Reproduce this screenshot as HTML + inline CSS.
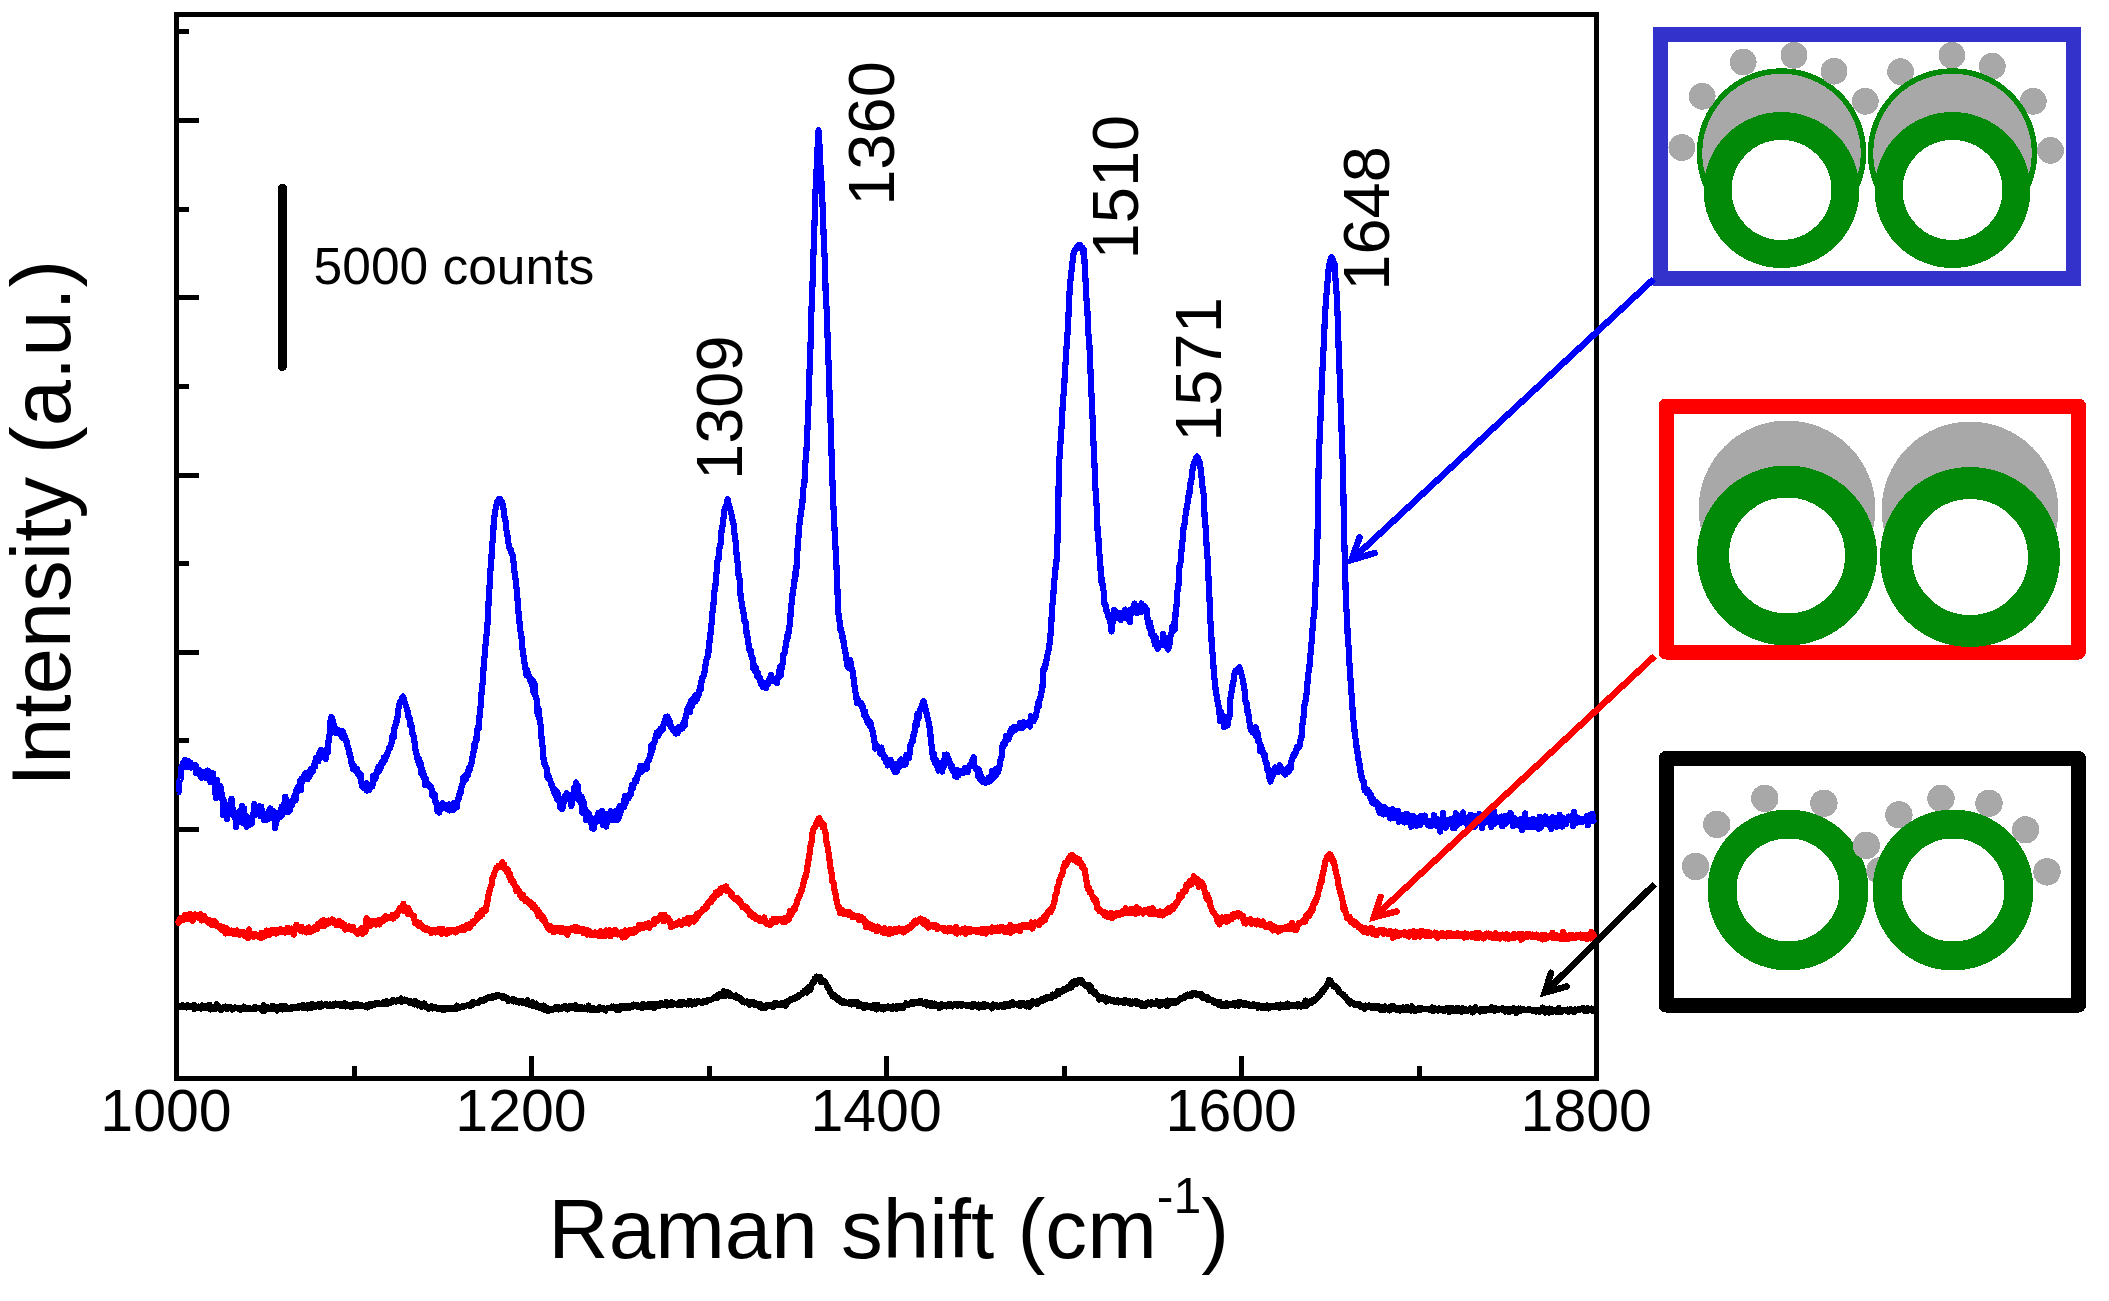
<!DOCTYPE html>
<html><head><meta charset="utf-8"><title>Raman spectra</title>
<style>
html,body{margin:0;padding:0;background:#fff;}
body{width:2109px;height:1301px;overflow:hidden;}
svg{display:block;}
text{font-family:"Liberation Sans", Arial, sans-serif;fill:#000;}
</style></head>
<body>
<svg width="2109" height="1301" viewBox="0 0 2109 1301" shape-rendering="crispEdges">
<rect width="2109" height="1301" fill="#fff"/>
<rect x="176.5" y="14.5" width="1420" height="1064" fill="none" stroke="#000" stroke-width="5"/>
<path d="M179 120.6H199M179 297.7H199M179 475.1H199M179 652.3H199M179 829.5H199M179 1006.7H199M179 31.9H189M179 209.1H189M179 386.6H189M179 563.7H189M179 740.9H189M179 918.1H189M531.5 1076V1056M886.6 1076V1056M1241.7 1076V1056M354.0 1076V1066M709.1 1076V1066M1064.1 1076V1066M1419.2 1076V1066" stroke="#000" stroke-width="5" fill="none"/>
<text x="166.0" y="1131" font-size="59" text-anchor="middle">1000</text>
<text x="521.0" y="1131" font-size="59" text-anchor="middle">1200</text>
<text x="876.1" y="1131" font-size="59" text-anchor="middle">1400</text>
<text x="1231.2" y="1131" font-size="59" text-anchor="middle">1600</text>
<text x="1586.2" y="1131" font-size="59" text-anchor="middle">1800</text>
<text transform="translate(70.1 786.8) rotate(-90)" font-size="83.2">Intensity (a.u.)</text>
<text x="548.3" y="1258" font-size="83.6">Raman shift (cm<tspan font-size="50" dy="-45">-1</tspan><tspan dy="45">)</tspan></text>
<path d="M282.4 188V366.5" stroke="#000" stroke-width="9" stroke-linecap="round"/>
<text x="313.6" y="284.2" font-size="51.5">5000 counts</text>
<text transform="translate(741.5 480.0) rotate(-90)" font-size="65">1309</text>
<text transform="translate(893.8 205.8) rotate(-90)" font-size="65">1360</text>
<text transform="translate(1137.5 259.4) rotate(-90)" font-size="65">1510</text>
<text transform="translate(1221.2 441.8) rotate(-90)" font-size="65">1571</text>
<text transform="translate(1389.2 290.7) rotate(-90)" font-size="65">1648</text>
<path d="M178.8 1006.7L179.7 1007.4L180.6 1006.3L181.5 1006.9L182.4 1005.0L183.3 1007.2L184.2 1005.7L185.1 1007.0L186.0 1006.3L186.9 1007.5L187.8 1005.2L188.7 1007.0L189.6 1006.3L190.5 1007.2L191.4 1005.9L192.3 1006.5L193.2 1005.5L194.1 1009.1L195.0 1005.4L195.9 1007.4L196.8 1007.0L197.7 1008.2L198.6 1006.4L199.5 1008.3L200.4 1007.1L201.3 1008.7L202.2 1005.4L203.1 1008.1L204.0 1006.9L204.9 1008.1L205.8 1006.1L206.7 1007.3L207.6 1006.3L208.5 1007.8L209.4 1004.6L210.3 1009.6L211.2 1007.3L212.1 1009.0L213.0 1007.4L213.9 1007.8L214.8 1007.1L215.7 1008.9L216.6 1004.1L217.5 1008.1L218.4 1007.6L219.3 1008.7L220.2 1007.2L221.1 1010.1L222.0 1008.1L222.9 1008.4L223.8 1006.9L224.7 1008.3L225.6 1006.5L226.5 1008.9L227.4 1006.9L228.3 1008.6L229.2 1006.8L230.1 1008.2L231.0 1007.3L231.9 1009.6L232.9 1007.8L233.8 1008.6L234.7 1007.4L235.6 1007.9L236.5 1007.9L237.4 1008.3L238.3 1008.8L239.2 1008.8L240.1 1008.1L241.0 1009.8L241.9 1008.5L242.8 1008.3L243.7 1006.6L244.6 1009.0L245.5 1007.9L246.4 1009.4L247.3 1008.1L248.2 1009.3L249.1 1007.6L250.0 1008.7L250.9 1008.5L251.8 1009.0L252.7 1008.7L253.6 1009.1L254.5 1007.0L255.4 1009.2L256.3 1007.3L257.2 1008.3L258.1 1008.2L259.0 1008.2L259.9 1008.2L260.8 1009.5L261.7 1007.7L262.6 1010.8L263.5 1005.1L264.4 1011.0L265.3 1007.5L266.2 1007.3L267.1 1007.1L268.0 1008.9L268.9 1008.3L269.9 1008.6L270.8 1007.9L271.7 1008.9L272.6 1005.7L273.5 1008.7L274.4 1006.5L275.3 1008.8L276.2 1006.8L277.1 1010.6L278.0 1007.0L278.9 1009.0L279.8 1006.3L280.7 1008.6L281.6 1005.9L282.5 1009.5L283.4 1005.8L284.3 1007.8L285.2 1005.7L286.1 1008.6L287.0 1008.2L287.9 1009.0L288.8 1007.7L289.7 1008.2L290.6 1007.4L291.5 1009.3L292.4 1006.7L293.3 1008.1L294.2 1007.0L295.1 1007.8L296.0 1007.2L296.9 1008.4L297.8 1006.3L298.7 1007.6L299.6 1006.4L300.5 1006.5L301.4 1005.6L302.3 1007.7L303.2 1005.1L304.1 1008.2L305.0 1005.8L305.9 1007.7L306.8 1005.6L307.8 1008.6L308.7 1005.1L309.6 1007.0L310.5 1006.5L311.4 1007.9L312.3 1003.9L313.2 1005.5L314.1 1005.0L315.0 1007.2L315.9 1005.1L316.8 1005.5L317.7 1005.2L318.6 1005.7L319.5 1003.6L320.4 1007.3L321.3 1003.5L322.2 1006.2L323.1 1004.9L324.0 1004.5L324.9 1004.6L325.8 1003.7L326.7 1004.1L327.6 1006.2L328.5 1005.1L329.4 1005.6L330.3 1004.4L331.2 1006.0L332.1 1004.8L333.0 1006.3L333.9 1003.9L334.8 1004.7L335.7 1003.6L336.7 1005.1L337.6 1003.7L338.5 1005.4L339.4 1004.2L340.3 1005.9L341.2 1004.0L342.1 1005.9L343.0 1005.4L343.9 1005.9L344.8 1003.2L345.7 1006.5L346.6 1004.2L347.5 1005.8L348.4 1005.4L349.3 1006.4L350.2 1005.4L351.1 1007.0L352.0 1004.8L352.9 1006.9L353.8 1003.8L354.7 1005.5L355.7 1004.1L356.6 1005.8L357.5 1004.1L358.4 1006.4L359.3 1006.3L360.2 1005.7L361.1 1005.0L362.0 1006.4L362.9 1005.9L363.8 1006.3L364.7 1006.7L365.6 1006.6L366.5 1005.3L367.4 1007.5L368.3 1005.5L369.2 1006.1L370.1 1004.1L371.0 1006.1L371.9 1005.0L372.8 1005.4L373.7 1003.9L374.6 1005.2L375.5 1003.2L376.4 1004.3L377.3 1002.8L378.2 1003.1L379.1 1003.9L380.0 1003.7L380.9 1004.0L381.8 1004.4L382.7 1002.5L383.6 1003.8L384.5 1001.7L385.4 1003.1L386.3 1001.1L387.2 1004.2L388.1 1001.7L389.0 1002.5L389.9 1001.8L390.8 1002.5L391.7 1000.6L392.6 1002.0L393.6 1000.3L394.5 1000.7L395.4 1000.6L396.3 1001.6L397.2 1000.5L398.1 1001.4L399.0 1000.0L399.9 1001.4L400.8 998.4L401.7 1002.1L402.6 999.7L403.5 1000.8L404.4 999.5L405.3 1001.4L406.2 1000.1L407.1 1001.3L408.0 1001.0L408.9 1002.7L409.8 1000.8L410.7 1003.1L411.6 1002.6L412.6 1002.7L413.5 1002.2L414.4 1004.6L415.3 1001.0L416.2 1004.1L417.1 1003.2L418.0 1005.5L418.9 1003.3L419.8 1005.4L420.7 1004.3L421.6 1006.8L422.5 1004.9L423.4 1006.3L424.3 1003.4L425.2 1006.6L426.1 1005.4L427.0 1007.6L427.9 1006.9L428.8 1008.8L429.7 1007.0L430.6 1007.1L431.5 1005.9L432.4 1008.5L433.3 1007.0L434.2 1007.4L435.1 1006.7L436.0 1007.4L436.9 1007.9L437.8 1008.9L438.7 1008.2L439.6 1008.3L440.5 1007.7L441.4 1009.5L442.3 1008.0L443.2 1010.3L444.1 1007.8L445.0 1009.7L445.9 1007.6L446.8 1009.0L447.7 1007.9L448.6 1008.9L449.5 1008.3L450.5 1008.8L451.4 1007.7L452.3 1009.1L453.2 1007.8L454.1 1009.1L455.0 1007.7L455.9 1009.0L456.8 1005.5L457.7 1008.1L458.6 1007.2L459.5 1008.0L460.4 1007.3L461.3 1006.9L462.2 1006.1L463.1 1007.2L464.0 1006.7L464.9 1006.0L465.8 1005.7L466.7 1005.4L467.6 1005.2L468.5 1005.5L469.5 1004.7L470.4 1006.1L471.3 1003.4L472.2 1004.9L473.1 1001.8L474.0 1003.6L474.9 1003.3L475.8 1003.1L476.7 1003.0L477.6 1003.3L478.5 1001.9L479.4 1002.1L480.3 1000.4L481.2 1001.1L482.1 999.7L483.0 1001.2L483.9 999.3L484.8 1000.1L485.7 998.5L486.6 998.9L487.5 998.3L488.4 998.4L489.3 996.7L490.2 997.8L491.1 998.3L492.0 997.7L492.9 995.7L493.8 997.4L494.7 996.2L495.6 997.1L496.5 995.1L497.4 995.6L498.3 994.7L499.2 996.0L500.1 995.9L501.0 996.5L501.9 997.6L502.8 997.8L503.7 996.1L504.6 998.3L505.5 997.0L506.4 998.4L507.4 997.8L508.3 1001.3L509.2 999.2L510.1 1000.3L511.0 1000.0L511.9 1000.2L512.8 998.8L513.7 1001.5L514.6 1000.1L515.5 1000.8L516.4 1000.4L517.3 1002.1L518.2 1001.1L519.1 1002.7L520.0 1000.9L520.9 1001.5L521.8 1000.7L522.7 1002.9L523.6 1001.5L524.5 1003.1L525.4 1003.0L526.4 1004.1L527.3 1000.1L528.2 1004.4L529.1 1002.4L530.0 1005.4L530.9 1002.6L531.8 1003.7L532.7 1002.0L533.6 1006.2L534.5 1004.6L535.4 1004.5L536.3 1003.6L537.2 1007.2L538.0 1006.1L538.9 1007.7L539.8 1006.0L540.7 1007.6L541.6 1006.8L542.4 1009.0L543.3 1005.5L544.2 1009.9L545.1 1008.1L546.0 1009.6L546.8 1007.6L547.7 1011.3L548.6 1009.9L549.5 1010.3L550.4 1009.5L551.3 1009.2L552.2 1008.8L553.1 1009.6L554.0 1008.4L554.9 1008.4L555.8 1006.9L556.6 1008.8L557.5 1008.5L558.4 1009.4L559.3 1007.3L560.2 1009.1L561.1 1008.9L562.0 1008.8L562.9 1006.9L563.8 1008.2L564.7 1005.7L565.6 1008.0L566.5 1006.8L567.4 1009.6L568.3 1006.9L569.3 1008.0L570.2 1005.7L571.1 1008.5L572.0 1005.7L572.9 1007.8L573.8 1007.2L574.7 1008.5L575.6 1005.3L576.5 1008.8L577.4 1007.8L578.3 1007.9L579.3 1007.4L580.2 1009.1L581.1 1007.0L582.0 1008.2L582.9 1007.9L583.8 1009.0L584.7 1007.4L585.6 1007.7L586.5 1007.5L587.4 1009.5L588.4 1005.5L589.3 1008.4L590.2 1007.6L591.1 1010.4L592.0 1008.4L592.9 1010.3L593.8 1008.4L594.7 1008.8L595.6 1009.8L596.5 1009.3L597.4 1008.5L598.4 1010.0L599.3 1007.2L600.2 1008.5L601.1 1009.3L602.0 1009.5L602.9 1007.9L603.8 1008.8L604.7 1009.5L605.6 1010.6L606.5 1008.4L607.4 1008.3L608.3 1008.1L609.2 1007.9L610.1 1008.2L611.0 1008.1L611.9 1006.6L612.9 1008.4L613.8 1006.5L614.7 1008.1L615.6 1007.6L616.5 1009.8L617.4 1007.1L618.3 1010.0L619.2 1006.6L620.1 1009.8L621.0 1005.8L621.9 1007.4L622.8 1006.9L623.7 1006.7L624.6 1005.9L625.5 1008.3L626.4 1006.2L627.3 1008.1L628.2 1006.1L629.1 1008.3L630.0 1006.6L630.9 1006.8L631.9 1005.4L632.8 1006.6L633.7 1004.4L634.6 1005.6L635.5 1005.2L636.4 1006.0L637.3 1004.9L638.2 1007.4L639.1 1005.9L640.0 1006.8L640.9 1005.5L641.8 1007.9L642.7 1003.8L643.6 1007.6L644.5 1005.8L645.4 1007.2L646.3 1005.4L647.2 1007.3L648.1 1004.5L649.0 1007.2L649.9 1004.1L650.8 1006.8L651.7 1004.5L652.6 1005.5L653.5 1003.7L654.4 1008.2L655.3 1004.9L656.2 1006.7L657.1 1003.6L658.0 1004.7L658.9 1005.1L659.8 1005.9L660.8 1002.8L661.7 1005.1L662.6 1005.0L663.5 1004.9L664.4 1004.1L665.3 1004.7L666.2 1002.1L667.1 1005.9L668.0 1002.7L668.9 1005.0L669.8 1003.9L670.7 1004.7L671.6 1002.3L672.5 1004.7L673.4 1003.0L674.3 1004.4L675.2 1004.1L676.1 1004.1L677.0 1004.3L677.9 1005.0L678.8 1002.4L679.7 1004.3L680.6 1002.1L681.5 1004.8L682.3 1001.9L683.2 1003.6L684.1 1002.4L685.0 1004.2L685.9 1003.1L686.8 1004.4L687.7 1003.2L688.6 1004.5L689.5 1000.7L690.3 1003.9L691.2 1002.2L692.1 1004.7L693.0 1001.6L693.9 1003.7L694.8 1001.5L695.7 1003.8L696.5 1001.7L697.4 1002.4L698.3 1000.6L699.2 1002.2L700.1 1001.8L701.0 1002.6L701.9 1001.8L702.8 1002.8L703.7 1000.8L704.5 1001.9L705.4 1001.3L706.3 1002.4L707.2 1000.2L708.1 1000.6L709.0 999.7L709.9 1000.5L710.8 1000.0L711.7 999.4L712.6 998.9L713.5 998.7L714.4 997.2L715.3 997.4L716.2 996.9L717.2 997.9L718.1 994.6L719.0 996.1L719.9 993.9L720.8 996.3L721.7 995.3L722.6 994.1L723.5 991.2L724.4 996.5L725.3 992.3L726.2 992.2L727.1 992.1L728.0 994.7L728.9 992.7L729.8 996.0L730.7 993.9L731.6 996.4L732.5 995.8L733.4 995.6L734.3 996.9L735.2 997.5L736.2 995.5L737.1 997.5L738.0 996.9L738.9 998.5L739.8 998.1L740.7 1000.5L741.6 999.1L742.5 1002.0L743.4 1001.1L744.3 1002.5L745.2 1002.1L746.1 1002.5L747.0 1001.5L747.9 1003.5L748.8 1002.7L749.7 1004.8L750.6 1001.8L751.5 1003.7L752.4 1003.7L753.3 1004.0L754.2 1002.5L755.1 1004.9L756.0 1003.5L756.9 1005.2L757.8 1004.6L758.7 1006.4L759.6 1003.6L760.5 1006.8L761.4 1004.9L762.3 1008.4L763.2 1005.6L764.1 1007.2L765.0 1006.2L765.9 1007.8L766.8 1004.9L767.7 1005.4L768.6 1004.7L769.5 1006.4L770.4 1005.0L771.3 1006.4L772.2 1005.4L773.1 1007.3L774.1 1003.2L775.0 1005.0L775.9 1002.8L776.8 1005.0L777.7 1004.1L778.6 1003.9L779.5 1003.9L780.4 1005.4L781.3 1003.4L782.2 1005.4L783.1 1003.3L784.0 1003.9L784.9 1002.3L785.8 1006.1L786.7 1001.3L787.6 1001.7L788.5 1001.7L789.4 1001.0L790.3 999.4L791.1 1000.3L792.0 998.6L792.9 998.8L793.8 997.7L794.7 998.8L795.6 996.9L796.5 997.8L797.4 996.3L798.3 997.1L799.2 994.8L800.0 995.3L800.9 994.4L801.8 994.4L802.6 992.5L803.5 992.9L804.3 991.0L805.2 991.8L806.1 990.0L806.9 992.8L807.8 988.1L808.7 989.1L809.5 986.7L810.4 990.0L811.3 984.4L812.1 984.5L813.0 981.3L813.8 982.4L814.7 978.5L815.6 979.5L816.4 976.4L817.3 977.3L818.2 977.3L819.2 979.3L820.1 977.0L821.0 982.1L822.0 980.0L822.9 980.1L823.9 980.7L824.8 982.2L825.8 982.7L826.7 985.5L827.6 986.0L828.6 989.4L829.5 989.4L830.5 993.2L831.4 993.4L832.4 996.6L833.3 996.4L834.1 997.0L835.0 995.5L835.9 998.7L836.7 998.5L837.6 999.8L838.4 998.0L839.3 1000.5L840.2 1000.5L841.0 1002.2L841.9 1000.6L842.8 1003.2L843.7 1000.9L844.6 1002.0L845.4 1002.1L846.3 1003.3L847.2 1003.1L848.1 1003.5L849.0 1002.4L849.9 1004.4L850.8 1002.5L851.7 1004.5L852.5 1002.3L853.4 1004.4L854.3 1002.2L855.2 1003.6L856.1 1004.0L857.0 1004.9L857.9 1002.1L858.7 1006.4L859.6 1003.9L860.5 1006.0L861.4 1004.5L862.3 1006.5L863.2 1004.9L864.1 1008.5L865.0 1006.1L865.8 1007.0L866.7 1005.1L867.6 1006.9L868.5 1005.9L869.4 1007.2L870.3 1006.9L871.2 1007.9L872.0 1006.2L872.9 1008.3L873.8 1005.0L874.7 1006.9L875.6 1007.3L876.5 1009.5L877.4 1004.6L878.3 1007.4L879.1 1006.8L880.0 1007.5L880.9 1007.7L881.8 1008.9L882.7 1007.3L883.6 1009.6L884.5 1006.8L885.4 1007.5L886.2 1007.6L887.1 1007.5L888.0 1006.4L888.9 1008.2L889.8 1007.1L890.7 1008.3L891.6 1007.5L892.5 1009.3L893.4 1006.3L894.2 1008.1L895.1 1007.6L896.0 1008.7L896.9 1005.7L897.8 1008.5L898.7 1007.2L899.6 1007.9L900.5 1005.6L901.4 1008.2L902.4 1006.4L903.3 1008.1L904.2 1005.7L905.1 1005.7L906.0 1003.1L906.9 1005.3L907.8 1004.4L908.7 1005.0L909.6 1003.6L910.5 1003.2L911.4 1002.2L912.3 1003.9L913.3 1001.9L914.2 1003.5L915.1 1002.0L916.0 1002.5L916.9 1002.6L917.8 1003.3L918.7 1001.4L919.6 1002.0L920.5 1000.7L921.4 1002.7L922.3 1003.0L923.2 1003.7L924.1 1002.7L925.0 1003.6L925.9 1002.1L926.8 1005.5L927.7 1002.4L928.6 1004.7L929.5 1004.2L930.4 1005.6L931.3 1003.1L932.2 1005.7L933.1 1004.0L934.0 1005.6L934.9 1003.6L935.8 1006.2L936.7 1004.6L937.6 1006.1L938.5 1005.4L939.4 1008.2L940.4 1004.5L941.3 1005.7L942.2 1004.2L943.1 1006.5L944.0 1004.8L944.9 1005.1L945.9 1004.9L946.8 1006.4L947.7 1004.7L948.6 1005.5L949.5 1003.6L950.4 1005.7L951.3 1005.4L952.3 1006.4L953.2 1005.2L954.1 1004.7L955.0 1003.7L955.9 1005.1L956.8 1004.2L957.7 1005.9L958.6 1003.6L959.5 1005.2L960.4 1004.9L961.3 1005.7L962.2 1004.0L963.1 1005.3L964.0 1005.0L964.9 1005.3L965.8 1005.8L966.7 1005.2L967.6 1004.8L968.5 1005.7L969.4 1005.4L970.3 1005.7L971.2 1004.6L972.1 1007.0L973.0 1003.6L974.0 1005.6L974.9 1004.2L975.8 1006.1L976.7 1005.4L977.6 1007.0L978.5 1004.5L979.4 1007.7L980.3 1004.6L981.2 1005.5L982.1 1005.9L983.0 1007.2L983.9 1003.8L984.8 1006.6L985.7 1005.3L986.6 1004.7L987.5 1005.4L988.4 1006.0L989.3 1005.7L990.2 1006.0L991.1 1005.9L992.0 1008.5L992.9 1004.4L993.8 1006.4L994.7 1005.6L995.6 1005.9L996.5 1005.1L997.4 1006.7L998.3 1005.9L999.2 1006.7L1000.1 1005.2L1001.0 1006.2L1001.9 1004.9L1002.9 1006.9L1003.8 1004.4L1004.7 1007.1L1005.6 1004.7L1006.5 1006.4L1007.4 1003.8L1008.3 1006.2L1009.2 1004.0L1010.1 1005.6L1011.0 1003.2L1011.9 1005.3L1012.8 1002.1L1013.7 1004.9L1014.6 1004.5L1015.5 1004.4L1016.4 1003.7L1017.3 1004.8L1018.2 1003.7L1019.1 1005.8L1020.0 1002.9L1020.9 1005.7L1021.9 1004.1L1022.8 1003.6L1023.7 1003.1L1024.6 1005.6L1025.5 1003.8L1026.4 1006.5L1027.3 1003.2L1028.2 1004.0L1029.1 1002.9L1030.0 1006.9L1030.9 1003.4L1031.8 1003.4L1032.7 1001.1L1033.6 1003.5L1034.5 1001.6L1035.4 1003.2L1036.3 1002.0L1037.2 1004.3L1038.1 1000.7L1039.0 1002.2L1039.9 1000.8L1040.8 1000.1L1041.7 998.9L1042.6 1000.7L1043.5 999.8L1044.4 999.9L1045.3 997.5L1046.2 999.1L1047.1 997.5L1048.0 998.3L1048.9 997.1L1049.8 997.8L1050.7 997.4L1051.6 997.7L1052.5 994.4L1053.4 996.1L1054.3 994.9L1055.2 995.8L1056.1 993.7L1057.0 993.1L1057.8 991.3L1058.7 994.4L1059.6 991.3L1060.5 992.2L1061.4 991.0L1062.3 991.6L1063.2 989.2L1064.1 989.2L1065.0 990.4L1065.9 989.7L1066.8 987.8L1067.7 988.6L1068.5 986.4L1069.4 987.3L1070.3 984.9L1071.2 987.8L1072.1 982.3L1073.0 985.1L1073.9 981.2L1074.8 984.4L1075.6 982.5L1076.5 983.7L1077.4 980.4L1078.3 980.9L1079.2 980.2L1080.0 982.1L1080.9 979.6L1081.8 982.9L1082.6 981.4L1083.5 984.1L1084.3 983.6L1085.2 985.6L1086.1 984.9L1086.9 986.5L1087.8 985.8L1088.7 986.7L1089.5 985.3L1090.4 991.3L1091.3 986.8L1092.1 991.8L1093.0 990.5L1093.9 993.2L1094.8 991.6L1095.6 994.7L1096.5 994.1L1097.4 995.2L1098.2 996.3L1099.1 999.7L1100.0 996.9L1100.9 998.2L1101.8 996.9L1102.7 999.2L1103.6 997.6L1104.5 998.1L1105.4 997.5L1106.3 1001.7L1107.2 998.2L1108.1 999.7L1109.0 1000.1L1109.9 999.1L1110.8 999.8L1111.7 1001.3L1112.6 999.6L1113.5 999.8L1114.4 1001.0L1115.3 1002.3L1116.2 1001.0L1117.1 1002.4L1118.0 1000.1L1118.9 1002.5L1119.8 1001.3L1120.7 1002.3L1121.5 1001.2L1122.4 1001.5L1123.3 1001.2L1124.2 1003.3L1125.1 999.9L1126.0 1002.5L1126.9 1002.2L1127.8 1002.4L1128.7 1000.7L1129.6 1003.6L1130.5 1002.2L1131.3 1004.0L1132.2 1001.5L1133.1 1003.0L1134.0 1002.7L1134.9 1003.1L1135.8 1000.6L1136.7 1004.1L1137.6 1002.9L1138.5 1003.7L1139.4 1002.5L1140.2 1003.9L1141.1 1002.6L1142.0 1006.3L1142.9 1003.6L1143.8 1004.0L1144.7 1003.9L1145.6 1005.7L1146.5 1002.9L1147.4 1004.2L1148.2 1002.5L1149.1 1004.2L1150.0 1004.2L1150.9 1004.8L1151.8 1002.1L1152.7 1004.4L1153.6 1003.5L1154.5 1003.9L1155.3 1004.3L1156.2 1003.6L1157.1 1001.1L1158.0 1003.3L1158.9 1002.3L1159.8 1005.8L1160.7 1001.6L1161.6 1005.0L1162.5 1002.6L1163.3 1002.1L1164.2 1001.7L1165.1 1003.0L1166.0 1002.7L1166.9 1006.4L1167.8 1000.4L1168.7 1002.2L1169.5 1001.1L1170.4 1003.5L1171.3 1002.2L1172.2 1002.6L1173.1 1000.7L1174.0 1003.1L1174.9 1001.2L1175.8 1002.6L1176.7 1001.3L1177.6 1001.8L1178.6 999.8L1179.5 1000.0L1180.4 998.0L1181.3 999.2L1182.2 998.3L1183.1 998.1L1184.0 996.3L1184.9 997.7L1185.8 996.3L1186.7 996.6L1187.6 994.6L1188.5 996.2L1189.5 995.0L1190.4 996.4L1191.3 993.8L1192.2 995.5L1193.1 992.7L1194.0 994.3L1194.9 993.4L1195.8 994.5L1196.6 993.5L1197.5 994.7L1198.4 993.8L1199.3 995.4L1200.1 995.2L1201.0 996.2L1201.9 994.1L1202.8 997.8L1203.6 997.0L1204.5 997.7L1205.4 997.1L1206.3 998.6L1207.2 996.9L1208.1 1000.0L1209.0 998.8L1209.8 999.6L1210.7 999.6L1211.6 999.9L1212.5 999.8L1213.4 1002.3L1214.3 1001.0L1215.2 1003.0L1216.1 1001.7L1216.9 1003.0L1217.8 1003.0L1218.7 1005.1L1219.6 1001.7L1220.5 1004.9L1221.4 1005.0L1222.3 1006.2L1223.2 1003.6L1224.1 1006.3L1225.0 1003.7L1225.9 1004.9L1226.8 1003.3L1227.7 1005.8L1228.6 1003.8L1229.5 1005.3L1230.5 1004.2L1231.4 1005.1L1232.3 1003.8L1233.2 1004.8L1234.1 1002.8L1235.0 1005.6L1235.9 1004.4L1236.8 1004.4L1237.7 1003.2L1238.6 1006.2L1239.5 1001.9L1240.4 1004.7L1241.3 1002.4L1242.2 1004.5L1243.0 1003.4L1243.9 1005.3L1244.8 1003.4L1245.7 1005.0L1246.6 1003.6L1247.5 1004.6L1248.4 1004.3L1249.3 1005.6L1250.2 1005.2L1251.0 1005.6L1251.9 1004.8L1252.8 1005.6L1253.7 1004.1L1254.6 1005.9L1255.5 1005.7L1256.4 1006.4L1257.2 1005.2L1258.1 1007.9L1259.0 1005.4L1259.9 1006.9L1260.8 1006.1L1261.7 1008.0L1262.6 1006.3L1263.5 1007.6L1264.4 1005.9L1265.2 1008.1L1266.1 1006.1L1267.0 1005.5L1267.9 1007.0L1268.8 1008.5L1269.7 1006.1L1270.6 1007.2L1271.5 1006.0L1272.4 1006.3L1273.2 1006.1L1274.1 1006.8L1275.0 1006.5L1275.9 1007.3L1276.8 1004.8L1277.7 1007.2L1278.6 1006.1L1279.5 1007.9L1280.4 1004.4L1281.3 1005.9L1282.2 1005.1L1283.0 1007.2L1283.9 1005.4L1284.8 1006.6L1285.7 1006.4L1286.6 1007.3L1287.5 1003.4L1288.4 1006.9L1289.3 1004.5L1290.2 1006.4L1291.1 1005.9L1291.9 1006.4L1292.8 1004.8L1293.7 1005.5L1294.6 1006.1L1295.5 1005.5L1296.4 1005.7L1297.3 1006.4L1298.2 1003.6L1299.1 1006.2L1300.0 1006.0L1300.9 1006.6L1301.8 1005.2L1302.7 1004.7L1303.6 1004.8L1304.5 1005.9L1305.4 1000.5L1306.3 1005.9L1307.2 1002.8L1308.1 1004.4L1309.0 1001.6L1309.9 1002.8L1310.8 1000.8L1311.7 1002.9L1312.6 1000.3L1313.5 1001.5L1314.4 999.1L1315.3 999.7L1316.2 998.4L1317.1 998.5L1318.0 995.8L1318.9 996.4L1319.8 993.5L1320.7 994.5L1321.7 990.8L1322.6 992.4L1323.5 989.3L1324.4 990.4L1325.3 987.3L1326.2 987.5L1327.2 983.7L1328.1 984.6L1329.0 980.0L1329.9 981.6L1330.8 980.8L1331.7 983.6L1332.7 985.0L1333.6 986.5L1334.5 985.8L1335.4 987.5L1336.3 986.6L1337.2 989.0L1338.2 988.4L1339.1 992.3L1340.0 992.4L1340.9 993.2L1341.8 993.5L1342.8 994.7L1343.7 994.8L1344.6 997.3L1345.6 996.9L1346.5 999.2L1347.4 999.5L1348.4 1002.1L1349.3 1002.5L1350.2 1003.7L1351.1 1001.5L1352.0 1003.4L1352.9 1002.6L1353.8 1004.6L1354.7 1003.9L1355.6 1004.7L1356.5 1004.0L1357.4 1005.0L1358.3 1004.4L1359.2 1005.8L1360.1 1004.3L1361.0 1007.2L1361.9 1006.1L1362.8 1006.7L1363.7 1005.9L1364.6 1009.0L1365.5 1005.4L1366.4 1007.3L1367.3 1006.2L1368.2 1006.9L1369.0 1005.3L1369.9 1007.4L1370.8 1005.9L1371.7 1008.1L1372.6 1006.0L1373.5 1008.0L1374.4 1005.7L1375.3 1007.5L1376.2 1006.0L1377.1 1008.1L1377.9 1006.5L1378.8 1006.3L1379.7 1006.7L1380.6 1010.1L1381.5 1007.3L1382.4 1010.4L1383.3 1006.6L1384.2 1010.0L1385.1 1006.3L1385.9 1008.6L1386.8 1008.0L1387.7 1008.5L1388.6 1008.0L1389.5 1010.5L1390.4 1006.4L1391.3 1009.4L1392.2 1006.4L1393.1 1009.4L1394.0 1006.4L1394.8 1008.6L1395.7 1007.5L1396.6 1009.9L1397.5 1008.5L1398.4 1009.0L1399.3 1007.7L1400.2 1010.7L1401.1 1008.1L1402.0 1008.1L1402.9 1007.4L1403.8 1010.1L1404.7 1008.3L1405.6 1009.2L1406.5 1007.1L1407.5 1010.0L1408.4 1007.5L1409.3 1010.3L1410.2 1008.5L1411.1 1010.7L1412.0 1006.1L1412.9 1010.4L1413.8 1008.0L1414.7 1011.3L1415.6 1009.4L1416.5 1009.7L1417.4 1009.3L1418.3 1010.0L1419.2 1007.9L1420.1 1009.9L1421.0 1007.8L1421.9 1008.9L1422.8 1009.4L1423.8 1009.4L1424.7 1008.9L1425.6 1008.7L1426.5 1008.8L1427.4 1009.1L1428.3 1009.0L1429.2 1009.9L1430.1 1008.6L1431.0 1009.6L1431.9 1007.4L1432.8 1011.3L1433.7 1007.8L1434.6 1010.0L1435.5 1008.7L1436.4 1010.3L1437.3 1008.7L1438.2 1010.6L1439.1 1008.4L1440.0 1010.1L1441.0 1009.0L1441.9 1008.9L1442.8 1009.5L1443.7 1011.3L1444.6 1009.2L1445.5 1010.0L1446.4 1008.4L1447.3 1008.9L1448.2 1007.7L1449.1 1012.1L1450.0 1009.0L1450.9 1010.1L1451.8 1007.8L1452.7 1011.3L1453.6 1009.3L1454.5 1010.6L1455.4 1008.7L1456.4 1010.8L1457.3 1007.7L1458.2 1010.8L1459.1 1008.5L1460.0 1009.5L1460.9 1009.7L1461.8 1011.9L1462.7 1008.1L1463.6 1011.0L1464.5 1009.9L1465.4 1010.3L1466.3 1009.3L1467.2 1011.4L1468.2 1010.0L1469.1 1009.4L1470.0 1008.2L1470.9 1010.2L1471.8 1009.0L1472.7 1012.5L1473.6 1009.8L1474.5 1010.6L1475.4 1007.2L1476.3 1009.4L1477.2 1010.1L1478.1 1009.7L1479.0 1010.3L1479.9 1011.7L1480.8 1009.1L1481.8 1010.6L1482.7 1009.1L1483.6 1009.5L1484.5 1009.2L1485.4 1011.2L1486.3 1009.5L1487.2 1009.8L1488.1 1009.2L1489.0 1010.2L1489.9 1009.5L1490.8 1010.2L1491.7 1007.0L1492.6 1008.9L1493.6 1009.0L1494.5 1011.0L1495.4 1008.1L1496.3 1009.5L1497.2 1008.8L1498.1 1009.7L1499.0 1009.5L1499.9 1009.5L1500.8 1009.2L1501.7 1009.7L1502.6 1008.3L1503.5 1010.4L1504.4 1008.8L1505.3 1011.7L1506.2 1008.8L1507.1 1010.5L1508.0 1008.6L1509.0 1012.0L1509.9 1009.9L1510.8 1010.4L1511.7 1009.2L1512.6 1011.2L1513.5 1008.3L1514.4 1009.7L1515.3 1009.3L1516.2 1013.2L1517.1 1008.5L1518.0 1010.4L1518.9 1008.6L1519.8 1010.7L1520.7 1008.6L1521.6 1010.5L1522.5 1008.8L1523.4 1010.4L1524.3 1009.5L1525.2 1010.3L1526.2 1010.4L1527.1 1009.8L1528.0 1009.3L1528.9 1010.3L1529.8 1009.0L1530.7 1009.7L1531.6 1009.8L1532.5 1010.7L1533.4 1010.5L1534.3 1011.1L1535.2 1010.3L1536.1 1011.7L1537.0 1009.9L1537.9 1011.2L1538.8 1009.9L1539.7 1011.9L1540.6 1009.7L1541.5 1011.3L1542.5 1007.4L1543.4 1010.4L1544.3 1010.2L1545.2 1012.6L1546.1 1009.2L1547.0 1011.7L1547.9 1009.3L1548.8 1012.7L1549.7 1008.5L1550.6 1010.2L1551.5 1009.2L1552.4 1011.8L1553.3 1010.9L1554.2 1011.3L1555.1 1010.0L1556.0 1011.5L1557.0 1010.0L1557.9 1012.2L1558.8 1007.9L1559.7 1010.3L1560.6 1010.0L1561.5 1012.2L1562.4 1010.8L1563.3 1010.3L1564.2 1010.1L1565.1 1010.4L1566.0 1009.8L1566.9 1011.1L1567.9 1009.6L1568.8 1012.0L1569.7 1010.4L1570.6 1009.1L1571.5 1010.7L1572.4 1010.6L1573.3 1010.0L1574.2 1012.3L1575.1 1009.5L1576.0 1010.2L1576.9 1009.5L1577.8 1009.8L1578.7 1009.2L1579.7 1010.0L1580.6 1009.3L1581.5 1009.1L1582.4 1008.4L1583.3 1009.7L1584.2 1008.4L1585.1 1011.1L1586.0 1009.5L1586.9 1011.2L1587.8 1008.1L1588.7 1010.5L1589.6 1009.4L1590.6 1009.1L1591.5 1008.6L1592.4 1010.9L1593.3 1009.5L1594.2 1010.5L1595.1 1010.1L1596.0 1009.7" fill="none" stroke="#000" stroke-width="6.0" stroke-linejoin="round"/>
<path d="M177.8 920.4L178.7 922.9L179.6 919.3L180.5 919.6L181.3 918.0L182.2 919.6L183.1 917.5L184.0 919.6L184.9 914.7L185.8 918.8L186.7 916.2L187.5 917.1L188.4 915.3L189.3 919.2L190.2 913.8L191.1 916.0L191.9 915.9L192.8 920.9L193.7 915.2L194.5 917.3L195.4 914.4L196.2 915.2L197.1 915.5L198.0 917.1L198.8 915.4L199.7 918.5L200.6 914.1L201.6 920.4L202.5 917.7L203.5 919.7L204.4 915.9L205.3 919.5L206.3 921.0L207.2 921.0L208.2 920.5L209.1 923.0L210.0 920.3L211.0 924.7L211.9 921.5L212.9 924.6L213.8 920.7L214.8 924.7L215.8 922.9L216.7 925.7L217.6 925.4L218.5 926.3L219.3 927.5L220.2 928.8L221.1 926.3L222.0 929.9L222.8 926.8L223.7 930.1L224.6 929.1L225.5 933.5L226.3 928.0L227.2 931.6L228.1 930.2L229.0 932.9L229.8 931.1L230.7 932.2L231.6 930.5L232.4 932.7L233.3 931.4L234.1 933.8L235.0 930.9L235.9 933.7L236.7 930.4L237.6 933.9L238.5 931.8L239.4 934.7L240.3 932.4L241.1 934.2L242.0 932.6L242.9 934.5L243.8 932.1L244.7 935.7L245.6 933.8L246.5 935.0L247.4 933.1L248.2 938.2L249.1 929.4L250.0 935.5L250.9 935.6L251.8 935.7L252.6 934.0L253.5 936.8L254.4 934.6L255.2 935.8L256.1 934.4L257.0 936.2L257.9 935.6L258.7 936.8L259.6 935.6L260.5 937.7L261.3 933.1L262.2 937.5L263.1 934.7L264.0 936.8L264.8 934.5L265.7 934.0L266.6 930.5L267.5 934.0L268.3 931.7L269.2 934.9L270.1 931.7L271.0 932.2L271.8 930.2L272.7 933.1L273.6 931.3L274.5 932.2L275.4 929.8L276.2 933.5L277.1 931.1L278.0 932.6L278.9 930.2L279.7 931.7L280.6 929.2L281.5 931.8L282.4 930.6L283.2 931.2L284.1 929.8L285.0 932.5L285.9 929.9L286.8 932.1L287.7 927.7L288.5 932.3L289.4 930.5L290.3 931.3L291.2 928.6L292.1 931.1L293.0 929.2L293.9 934.6L294.8 929.2L295.6 930.0L296.5 924.7L297.4 929.3L298.3 929.2L299.2 929.2L300.1 928.0L301.0 931.3L301.8 926.9L302.7 931.5L303.6 929.0L304.5 930.6L305.4 928.9L306.3 932.5L307.2 929.4L308.1 930.8L308.9 927.3L309.8 932.1L310.7 929.4L311.6 930.1L312.5 929.0L313.5 930.5L314.4 927.7L315.4 926.9L316.3 928.0L317.2 928.9L318.2 923.8L319.1 926.8L320.0 922.8L320.8 925.0L321.7 921.0L322.6 923.1L323.4 920.2L324.3 926.0L325.1 922.2L326.0 921.6L326.9 922.4L327.7 923.7L328.6 920.6L329.5 922.7L330.4 922.4L331.2 922.0L332.1 919.5L333.0 922.4L333.9 920.3L334.7 923.5L335.6 922.2L336.5 925.3L337.4 922.8L338.2 922.6L339.1 920.9L340.0 923.5L340.9 923.7L341.7 925.6L342.6 923.1L343.5 926.5L344.3 924.4L345.2 929.6L346.0 927.1L346.9 929.3L347.8 927.3L348.6 928.5L349.5 926.5L350.4 929.4L351.3 928.8L352.1 930.1L353.0 926.9L353.9 929.7L354.8 930.4L355.6 931.6L356.5 931.9L357.4 933.7L358.3 930.6L359.1 931.9L360.0 930.9L360.9 933.1L361.8 928.2L362.7 933.7L363.7 929.9L364.6 932.3L365.5 931.2L366.6 918.4L367.6 919.2L368.5 922.8L369.4 921.7L370.4 925.9L371.3 921.3L372.2 922.8L373.2 921.9L374.1 924.3L375.1 921.2L376.0 924.7L376.9 921.6L377.7 923.2L378.6 920.3L379.5 924.4L380.3 921.0L381.2 920.5L382.0 919.4L382.9 921.0L383.8 917.8L384.6 919.0L385.5 916.3L386.4 918.8L387.2 917.0L388.1 917.5L389.0 916.7L389.8 917.5L390.7 917.2L391.5 916.9L392.4 914.8L393.3 918.6L394.1 915.3L395.0 916.0L395.9 914.0L396.9 915.8L397.8 911.8L398.8 911.5L399.7 908.2L400.7 910.5L401.6 907.3L402.5 908.7L403.3 903.7L404.2 911.2L405.0 907.9L405.9 909.9L406.8 907.9L407.6 914.0L408.5 908.2L409.3 912.8L410.2 911.8L411.1 914.9L412.1 915.0L413.0 916.7L414.0 916.1L414.9 923.1L415.9 922.1L416.8 922.7L417.6 922.3L418.5 925.9L419.4 922.7L420.2 924.7L421.1 925.1L421.9 927.0L422.8 926.5L423.7 928.7L424.5 927.6L425.4 929.7L426.3 928.2L427.3 930.2L428.2 928.8L429.2 930.7L430.1 930.3L431.1 932.8L432.1 930.2L433.0 931.6L433.9 930.7L434.7 930.0L435.6 932.4L436.5 931.2L437.3 929.9L438.2 932.1L439.1 929.1L440.0 932.1L440.8 930.0L441.7 933.8L442.6 928.7L443.4 931.2L444.3 931.0L445.2 931.4L446.1 931.2L446.9 933.7L447.8 929.9L448.7 932.8L449.6 930.0L450.4 931.9L451.3 930.0L452.2 930.4L453.1 930.2L453.9 930.7L454.8 929.8L455.7 932.5L456.6 929.8L457.5 930.9L458.3 928.7L459.2 929.3L460.1 928.4L461.0 930.3L461.8 929.0L462.7 929.9L463.6 926.9L464.5 929.7L465.3 926.7L466.2 928.2L467.1 924.8L468.0 927.2L468.9 924.5L469.7 927.8L470.6 924.4L471.5 924.4L472.4 921.9L473.2 923.6L474.1 921.0L475.0 921.0L475.9 919.4L476.7 919.6L477.6 914.9L478.5 918.0L479.4 914.0L480.4 916.4L481.3 910.6L482.2 914.5L483.2 909.7L484.1 910.2L485.1 909.7L486.0 910.4L486.9 902.8L487.9 900.2L488.9 892.3L489.8 890.6L490.8 886.2L491.7 885.1L492.6 877.7L493.6 876.5L494.6 872.3L495.5 870.8L496.4 867.6L497.4 868.0L498.4 866.0L499.3 867.1L500.2 865.3L501.2 866.4L502.2 862.2L503.1 864.2L504.1 864.4L505.0 869.3L506.0 868.2L506.9 872.2L507.9 869.2L508.8 875.3L509.8 873.8L510.7 880.5L511.6 878.7L512.6 882.3L513.5 881.6L514.5 885.6L515.4 886.9L516.4 891.2L517.4 888.1L518.3 891.6L519.2 890.6L520.2 895.5L521.1 894.4L522.1 898.3L523.0 894.6L524.0 898.6L524.9 898.8L525.7 901.3L526.6 899.1L527.5 901.8L528.3 901.5L529.2 903.3L530.0 902.0L530.9 905.3L531.8 904.4L532.6 907.1L533.5 904.5L534.5 908.9L535.4 907.4L536.4 911.4L537.3 909.4L538.2 916.0L539.2 911.7L540.1 916.3L541.1 915.3L542.0 919.4L543.0 916.4L543.9 920.7L544.9 920.2L545.8 924.1L546.7 924.9L547.7 927.8L548.6 926.7L549.6 929.7L550.5 926.2L551.5 930.0L552.4 930.1L553.4 932.3L554.3 928.2L555.2 931.8L556.2 928.0L557.1 930.2L557.9 927.9L558.8 929.9L559.7 930.1L560.5 931.9L561.4 928.0L562.2 932.1L563.1 928.3L564.0 930.7L564.8 929.9L565.7 933.0L566.6 929.3L567.5 934.8L568.4 929.2L569.3 931.3L570.2 929.0L571.0 929.1L571.9 927.9L572.8 930.1L573.7 928.9L574.6 930.3L575.5 926.7L576.4 931.3L577.3 929.3L578.2 930.3L579.0 928.2L579.9 930.5L580.8 929.0L581.7 930.6L582.5 931.0L583.4 933.2L584.3 929.5L585.2 932.6L586.0 931.3L586.9 934.6L587.8 930.3L588.7 934.2L589.7 931.3L590.6 934.9L591.6 932.6L592.5 935.2L593.4 933.3L594.4 934.8L595.3 932.4L596.3 935.3L597.2 933.8L598.1 935.4L599.0 934.7L599.9 936.0L600.8 931.3L601.7 934.8L602.6 933.6L603.5 936.2L604.4 933.5L605.2 936.1L606.1 930.2L607.0 934.3L607.9 932.0L608.8 933.2L609.7 930.0L610.6 936.1L611.5 931.4L612.4 932.4L613.3 930.7L614.1 932.1L615.0 929.9L615.9 933.9L616.7 932.5L617.6 934.4L618.4 932.6L619.3 933.7L620.2 934.9L621.0 935.2L621.9 932.0L622.8 937.5L623.6 933.5L624.5 936.6L625.4 930.4L626.2 936.5L627.1 931.7L627.9 934.7L628.8 932.8L629.7 932.6L630.5 929.8L631.4 932.4L632.3 930.7L633.1 932.9L634.0 929.4L634.9 932.3L635.7 928.9L636.6 929.2L637.4 928.3L638.3 929.5L639.2 924.7L640.0 928.1L640.9 925.1L641.8 926.6L642.8 926.7L643.7 927.8L644.7 925.1L645.6 926.2L646.5 923.7L647.5 926.6L648.4 923.3L649.4 927.7L650.3 924.7L651.2 924.1L652.0 924.5L652.9 923.5L653.8 920.3L654.6 923.6L655.5 918.7L656.3 921.4L657.2 918.6L658.1 920.6L658.9 917.8L659.8 919.0L660.8 915.0L661.7 918.6L662.6 917.5L663.6 921.2L664.5 914.7L665.5 918.3L666.4 917.0L667.4 917.8L668.4 918.3L669.3 921.9L670.2 921.5L671.2 927.4L672.1 925.6L673.0 926.2L673.8 925.9L674.7 924.8L675.6 923.7L676.5 924.7L677.3 923.2L678.2 923.6L679.1 921.6L680.0 924.0L680.8 922.8L681.7 924.6L682.6 921.8L683.5 922.3L684.4 920.1L685.2 922.6L686.1 919.5L687.0 922.6L687.9 917.9L688.7 923.7L689.6 920.5L690.5 920.3L691.4 917.8L692.2 919.9L693.1 919.4L694.0 921.7L695.0 917.1L695.9 919.6L696.9 914.1L697.8 916.6L698.8 912.7L699.7 913.7L700.6 912.2L701.6 911.5L702.5 909.5L703.5 908.8L704.4 908.1L705.4 908.9L706.3 905.5L707.2 906.8L708.2 902.7L709.1 903.4L710.0 901.0L711.0 901.7L712.0 898.2L712.9 899.9L713.8 896.6L714.8 897.0L715.7 892.5L716.5 895.2L717.4 891.7L718.3 894.1L719.2 890.8L720.0 893.3L720.9 888.3L721.8 889.9L722.7 889.6L723.5 888.9L724.4 887.5L725.3 888.4L726.2 886.5L727.2 891.4L728.1 889.5L729.1 891.6L730.0 892.0L731.0 895.0L731.9 893.6L732.9 897.0L733.8 897.2L734.8 899.1L735.7 897.8L736.6 899.6L737.6 898.5L738.5 901.7L739.5 900.0L740.5 903.9L741.4 903.5L742.4 907.0L743.3 906.3L744.2 907.6L745.2 906.5L746.1 909.2L747.1 907.7L748.1 911.4L749.0 912.0L750.0 915.0L750.9 912.4L751.9 916.4L752.8 914.2L753.8 916.8L754.7 915.4L755.7 919.0L756.6 917.6L757.5 919.1L758.5 918.4L759.5 920.9L760.4 918.4L761.3 920.4L762.3 919.0L763.2 921.4L764.2 917.6L765.1 922.0L766.0 922.4L767.0 924.2L767.9 923.6L768.9 924.4L769.8 923.4L770.7 924.9L771.5 920.8L772.4 922.5L773.3 919.0L774.1 922.1L775.0 920.4L775.8 922.2L776.7 919.2L777.6 919.9L778.4 919.6L779.3 919.5L780.2 919.2L781.2 920.8L782.1 918.7L783.1 922.4L784.0 918.3L785.0 921.9L786.0 919.0L786.9 917.8L787.9 917.8L788.8 919.7L789.8 911.1L790.7 915.5L791.6 911.7L792.6 912.5L793.6 908.2L794.5 909.8L795.5 905.6L796.4 905.0L797.4 899.9L798.3 898.4L799.2 895.8L800.2 895.4L801.2 890.1L802.1 889.8L803.0 884.9L804.0 880.7L805.0 876.6L805.9 876.9L806.9 869.6L807.8 864.3L808.8 858.1L809.7 852.8L810.7 844.2L811.6 841.9L812.5 833.4L813.5 828.4L814.5 827.8L815.4 826.4L816.4 823.1L817.3 823.4L818.2 819.1L819.2 818.1L820.1 820.3L821.1 822.0L822.0 824.6L822.9 827.7L823.9 824.5L824.8 831.9L825.8 833.8L826.7 844.0L827.6 846.6L828.6 853.1L829.5 859.7L830.5 868.2L831.5 872.7L832.4 882.0L833.4 882.3L834.3 889.6L835.2 891.9L836.2 898.8L837.2 902.9L838.1 907.1L839.0 906.6L840.0 913.3L840.9 912.2L841.7 911.8L842.6 910.3L843.5 913.7L844.3 913.2L845.2 914.0L846.0 912.6L846.9 913.3L847.8 912.1L848.6 914.6L849.5 912.4L850.4 913.7L851.3 914.5L852.1 916.8L853.0 916.6L853.9 917.1L854.8 915.7L855.6 917.0L856.5 916.4L857.4 918.0L858.3 916.2L859.1 920.2L860.0 918.8L860.9 918.5L861.8 917.4L862.7 919.4L863.5 918.6L864.4 922.2L865.3 920.8L866.2 927.4L867.0 922.4L867.9 926.4L868.8 924.0L869.7 926.8L870.5 924.7L871.4 928.0L872.3 925.6L873.2 929.1L874.1 926.6L875.0 927.9L875.9 927.2L876.7 931.2L877.6 926.6L878.5 928.6L879.4 930.3L880.3 929.5L881.2 929.5L882.1 931.8L883.0 930.1L883.8 932.8L884.7 928.3L885.6 930.8L886.5 931.2L887.4 933.4L888.3 931.2L889.2 934.1L890.1 929.1L891.0 932.9L891.9 930.1L892.8 932.7L893.7 929.6L894.6 930.2L895.5 929.0L896.4 932.2L897.4 929.2L898.3 930.1L899.2 928.6L900.1 930.6L901.0 930.0L901.9 930.9L902.8 929.0L903.7 932.5L904.6 928.9L905.5 929.7L906.4 928.4L907.3 930.1L908.2 927.5L909.1 927.3L909.9 926.7L910.8 927.9L911.7 924.4L912.6 925.7L913.5 922.6L914.4 924.1L915.3 920.6L916.2 923.1L917.0 921.1L917.9 921.3L918.8 919.8L919.7 918.8L920.6 918.5L921.4 921.3L922.3 919.4L923.2 923.7L924.0 919.9L924.9 924.2L925.7 923.9L926.6 925.4L927.5 922.2L928.3 927.6L929.2 925.2L930.1 926.4L931.0 924.7L931.9 924.6L932.8 926.1L933.6 927.0L934.5 924.8L935.4 926.7L936.3 926.4L937.2 929.0L938.1 926.4L939.0 928.2L939.9 928.1L940.7 928.0L941.6 927.8L942.5 928.0L943.4 927.8L944.3 930.8L945.2 928.4L946.1 930.7L947.0 929.0L947.9 931.4L948.8 927.7L949.7 929.6L950.6 928.3L951.5 931.1L952.4 930.5L953.3 930.8L954.3 930.0L955.2 932.1L956.1 926.6L957.0 933.6L957.9 930.0L958.8 932.3L959.7 930.1L960.6 932.4L961.5 929.7L962.4 930.5L963.3 929.0L964.2 930.4L965.1 928.5L966.0 933.8L966.9 928.9L967.8 932.2L968.6 929.8L969.5 930.5L970.4 929.2L971.3 931.6L972.2 929.8L973.1 931.2L974.0 930.0L974.9 930.8L975.8 929.9L976.7 932.3L977.6 930.2L978.5 931.3L979.4 930.2L980.3 930.4L981.2 929.6L982.1 933.0L983.0 929.5L983.9 930.7L984.8 929.6L985.7 933.6L986.6 931.2L987.5 932.1L988.4 929.0L989.3 930.4L990.2 929.1L991.1 931.6L992.0 927.3L992.9 931.4L993.8 928.2L994.7 931.3L995.6 927.7L996.5 930.6L997.4 927.6L998.3 931.2L999.2 929.0L1000.1 930.4L1001.0 926.9L1001.9 930.3L1002.9 927.5L1003.8 930.7L1004.7 927.9L1005.6 932.3L1006.5 929.4L1007.4 931.9L1008.3 929.6L1009.2 930.4L1010.1 925.1L1011.0 932.8L1011.9 930.1L1012.8 931.1L1013.7 928.5L1014.6 930.2L1015.5 927.0L1016.4 928.3L1017.3 927.1L1018.2 928.0L1019.1 926.4L1019.9 931.4L1020.8 928.0L1021.7 927.8L1022.6 925.4L1023.5 927.0L1024.4 926.1L1025.3 927.3L1026.2 924.9L1027.1 926.8L1028.0 926.4L1028.9 925.7L1029.7 924.6L1030.6 925.5L1031.5 922.4L1032.4 928.7L1033.2 925.4L1034.1 925.3L1035.0 922.5L1035.9 924.4L1036.7 922.9L1037.6 923.9L1038.5 922.1L1039.4 925.1L1040.4 920.2L1041.3 921.0L1042.2 920.4L1043.2 921.5L1044.1 916.6L1045.1 920.2L1046.0 915.0L1047.0 915.0L1047.9 911.7L1048.8 912.3L1049.8 910.3L1050.8 912.1L1051.7 908.5L1052.6 908.3L1053.6 904.2L1054.5 901.5L1055.5 894.8L1056.4 894.2L1057.4 886.9L1058.3 885.8L1059.3 880.4L1060.2 879.0L1061.2 874.9L1062.2 874.5L1063.1 869.2L1064.0 867.2L1065.0 863.1L1065.9 865.9L1066.9 862.6L1067.8 861.6L1068.8 857.7L1069.7 859.3L1070.7 855.5L1071.6 855.7L1072.5 855.4L1073.3 859.8L1074.2 856.9L1075.0 860.6L1075.9 857.9L1076.8 862.1L1077.6 860.0L1078.5 862.8L1079.3 859.6L1080.2 863.0L1081.1 862.6L1082.1 867.2L1083.0 866.2L1084.0 869.5L1084.9 869.5L1085.9 878.4L1086.8 882.4L1087.8 889.2L1088.8 887.8L1089.7 892.2L1090.7 891.2L1091.6 894.9L1092.5 896.2L1093.5 899.4L1094.5 898.4L1095.4 902.1L1096.3 899.7L1097.2 908.0L1098.2 907.8L1099.1 910.9L1100.0 909.9L1101.0 911.6L1102.0 911.3L1102.9 912.3L1103.8 913.2L1104.8 915.5L1105.8 912.6L1106.7 916.6L1107.7 913.8L1108.6 917.3L1109.5 913.5L1110.5 917.2L1111.5 913.3L1112.4 918.0L1113.3 915.2L1114.3 915.0L1115.2 914.3L1116.1 915.6L1116.9 913.0L1117.8 914.6L1118.7 914.2L1119.6 915.1L1120.4 913.3L1121.3 912.7L1122.2 911.3L1123.1 913.7L1123.9 911.6L1124.8 910.3L1125.7 908.1L1126.6 913.1L1127.5 910.0L1128.4 913.3L1129.3 911.2L1130.2 912.6L1131.1 908.9L1132.0 912.7L1132.9 910.4L1133.8 910.1L1134.7 908.9L1135.7 914.0L1136.6 907.1L1137.5 913.3L1138.4 910.9L1139.3 910.1L1140.2 909.6L1141.1 912.3L1142.0 911.4L1142.9 913.6L1143.8 911.2L1144.7 909.9L1145.6 911.9L1146.5 911.1L1147.4 910.9L1148.3 912.8L1149.2 909.2L1150.1 914.1L1151.0 909.6L1151.9 912.2L1152.8 908.0L1153.7 913.8L1154.6 911.6L1155.5 913.4L1156.4 912.0L1157.3 913.1L1158.2 912.0L1159.1 915.3L1160.0 911.5L1160.9 913.7L1161.8 912.4L1162.7 915.5L1163.6 912.8L1164.5 913.0L1165.4 911.4L1166.2 913.3L1167.1 909.8L1168.0 911.7L1168.9 907.8L1169.7 911.9L1170.6 908.3L1171.5 909.1L1172.4 906.5L1173.2 909.3L1174.1 906.1L1175.0 906.6L1175.9 903.0L1176.8 903.4L1177.6 901.7L1178.5 900.4L1179.4 894.9L1180.3 898.3L1181.1 896.0L1182.0 896.3L1182.9 891.3L1183.8 892.9L1184.6 890.1L1185.5 891.5L1186.4 884.8L1187.4 886.8L1188.3 884.0L1189.2 884.1L1190.2 880.6L1191.2 884.6L1192.1 881.6L1193.0 881.9L1194.0 876.2L1195.0 881.4L1195.9 880.0L1196.8 882.1L1197.8 879.0L1198.8 886.8L1199.7 881.1L1200.6 885.4L1201.6 882.3L1202.5 886.8L1203.5 885.5L1204.4 890.2L1205.4 893.3L1206.3 897.9L1207.3 894.4L1208.2 900.5L1209.2 899.4L1210.2 905.7L1211.1 907.4L1212.0 910.0L1213.0 912.2L1213.9 912.5L1214.9 914.5L1215.8 915.5L1216.7 917.3L1217.7 921.7L1218.6 918.4L1219.5 924.6L1220.3 919.4L1221.2 921.0L1222.1 917.3L1222.9 920.7L1223.8 918.2L1224.6 919.9L1225.5 917.3L1226.4 921.8L1227.2 919.4L1228.1 921.3L1229.0 917.1L1229.8 919.1L1230.7 916.8L1231.6 919.2L1232.4 914.9L1233.3 917.5L1234.1 914.1L1235.0 914.5L1235.9 914.3L1236.7 913.5L1237.6 913.0L1238.5 916.4L1239.5 913.5L1240.5 916.5L1241.4 915.3L1242.3 918.0L1243.3 916.3L1244.2 922.9L1245.2 922.4L1246.1 923.5L1247.0 919.8L1247.9 921.7L1248.7 920.6L1249.6 920.9L1250.5 919.1L1251.4 923.9L1252.3 921.3L1253.2 921.9L1254.1 923.0L1255.0 923.5L1255.8 920.7L1256.7 924.4L1257.6 920.5L1258.5 923.2L1259.4 923.9L1260.3 924.7L1261.2 923.9L1262.1 923.7L1263.0 921.5L1263.9 925.1L1264.8 925.0L1265.7 927.3L1266.6 924.7L1267.5 926.4L1268.4 925.7L1269.3 926.6L1270.2 924.1L1271.1 928.3L1272.0 926.5L1272.9 930.4L1273.8 926.2L1274.7 927.4L1275.6 927.4L1276.5 927.8L1277.4 929.5L1278.3 931.5L1279.2 928.3L1280.1 930.3L1281.0 928.2L1281.9 929.4L1282.8 927.8L1283.7 928.5L1284.6 927.5L1285.5 927.7L1286.4 927.0L1287.4 929.1L1288.3 926.2L1289.2 928.7L1290.1 925.6L1291.0 928.8L1291.9 922.8L1292.8 928.7L1293.7 925.9L1294.6 929.8L1295.5 927.3L1296.4 929.8L1297.3 926.7L1298.2 925.0L1299.1 922.7L1299.9 923.2L1300.8 922.9L1301.7 921.9L1302.6 921.8L1303.5 921.0L1304.4 919.1L1305.3 921.6L1306.2 915.4L1307.0 917.6L1307.9 913.5L1308.8 916.0L1309.7 914.7L1310.7 912.6L1311.6 908.8L1312.5 910.3L1313.5 903.4L1314.5 903.9L1315.4 899.8L1316.3 900.4L1317.3 896.4L1318.1 894.3L1319.0 888.1L1319.8 887.1L1320.6 881.9L1321.5 882.0L1322.3 875.8L1323.2 874.0L1324.0 867.4L1324.8 865.0L1325.7 860.2L1326.5 859.0L1327.4 856.5L1328.2 859.0L1329.1 854.2L1329.9 855.3L1330.7 855.0L1331.6 858.7L1332.4 857.9L1333.3 862.8L1334.1 861.7L1335.0 869.3L1335.8 870.5L1336.7 875.6L1337.5 878.2L1338.4 884.6L1339.2 887.4L1340.1 892.5L1340.9 892.6L1341.8 897.7L1342.6 901.1L1343.4 908.9L1344.3 906.6L1345.2 911.5L1346.0 912.7L1347.0 918.0L1347.9 916.2L1348.9 919.3L1349.8 916.9L1350.8 921.9L1351.7 920.5L1352.7 923.3L1353.6 921.0L1354.6 924.6L1355.5 922.0L1356.5 924.9L1357.4 924.9L1358.4 927.1L1359.3 925.7L1360.3 928.3L1361.2 927.0L1362.1 930.2L1363.0 928.7L1363.9 932.2L1364.8 928.0L1365.7 930.7L1366.6 929.2L1367.6 932.6L1368.5 929.9L1369.4 930.9L1370.3 928.4L1371.2 932.7L1372.1 928.4L1373.0 934.2L1373.9 930.6L1374.8 933.5L1375.7 931.0L1376.6 935.3L1377.5 931.5L1378.4 931.2L1379.3 930.3L1380.3 931.3L1381.2 932.5L1382.1 932.5L1383.0 929.7L1383.9 933.8L1384.8 930.9L1385.7 932.0L1386.6 931.8L1387.5 934.0L1388.4 931.6L1389.3 934.1L1390.2 930.7L1391.1 933.1L1392.1 932.5L1393.0 937.9L1393.9 933.5L1394.8 934.2L1395.7 931.6L1396.6 934.9L1397.5 933.7L1398.4 935.9L1399.3 933.0L1400.2 935.1L1401.1 932.7L1402.0 933.7L1402.8 933.5L1403.7 934.4L1404.6 932.3L1405.5 935.3L1406.4 932.9L1407.3 935.6L1408.2 933.0L1409.1 936.5L1410.0 932.2L1410.9 933.6L1411.7 932.3L1412.6 934.1L1413.5 931.2L1414.4 937.4L1415.3 932.4L1416.2 934.8L1417.1 932.6L1418.0 935.4L1418.9 933.6L1419.7 936.6L1420.6 931.1L1421.5 933.2L1422.4 931.0L1423.3 934.4L1424.2 932.2L1425.1 935.5L1426.0 932.4L1426.9 935.6L1427.8 932.5L1428.6 934.9L1429.5 932.6L1430.4 936.0L1431.3 934.1L1432.2 934.3L1433.1 934.8L1434.0 934.4L1434.9 932.7L1435.8 934.3L1436.6 933.5L1437.5 937.9L1438.4 935.0L1439.3 934.6L1440.2 934.5L1441.1 935.3L1442.0 933.0L1442.9 936.2L1443.8 933.8L1444.7 935.7L1445.5 934.5L1446.4 936.4L1447.3 933.4L1448.2 935.5L1449.1 933.5L1450.0 936.2L1450.9 933.5L1451.8 935.7L1452.7 933.8L1453.5 935.7L1454.4 936.0L1455.3 936.1L1456.2 933.6L1457.1 935.5L1458.0 933.6L1458.9 935.5L1459.8 935.6L1460.7 936.2L1461.6 934.1L1462.4 935.9L1463.3 934.3L1464.2 937.6L1465.1 933.5L1466.0 934.4L1466.9 934.1L1467.8 936.6L1468.7 934.5L1469.6 936.3L1470.5 934.8L1471.4 936.8L1472.2 934.2L1473.1 935.6L1474.0 936.0L1474.9 937.6L1475.8 933.1L1476.7 937.8L1477.6 936.0L1478.5 937.7L1479.4 933.1L1480.3 936.4L1481.2 935.0L1482.1 936.1L1483.0 935.0L1483.8 938.4L1484.7 936.8L1485.6 936.1L1486.5 933.5L1487.4 936.1L1488.3 933.6L1489.2 936.6L1490.1 935.5L1491.0 937.0L1491.9 934.7L1492.8 937.7L1493.7 935.5L1494.5 935.4L1495.4 933.2L1496.3 938.0L1497.2 935.1L1498.1 937.8L1499.0 935.1L1499.9 938.5L1500.8 935.0L1501.7 936.3L1502.6 934.5L1503.5 937.1L1504.3 936.0L1505.2 938.4L1506.1 934.3L1507.0 935.8L1507.9 934.7L1508.8 938.8L1509.7 936.4L1510.6 937.7L1511.5 935.7L1512.4 938.3L1513.2 934.3L1514.1 938.2L1515.0 934.2L1515.9 936.4L1516.8 935.0L1517.7 936.1L1518.6 934.4L1519.5 937.7L1520.4 933.8L1521.2 939.8L1522.1 934.4L1523.0 938.4L1523.9 934.6L1524.8 935.6L1525.7 935.3L1526.6 937.3L1527.5 933.9L1528.4 936.6L1529.3 934.2L1530.1 935.3L1531.0 936.4L1531.9 937.0L1532.8 934.7L1533.7 936.8L1534.6 934.9L1535.5 937.2L1536.4 934.6L1537.3 936.5L1538.1 935.9L1539.0 938.0L1539.9 936.2L1540.8 938.1L1541.7 934.9L1542.6 939.6L1543.5 935.8L1544.4 938.9L1545.3 935.2L1546.2 938.6L1547.0 936.2L1547.9 936.3L1548.8 936.2L1549.7 936.5L1550.6 936.0L1551.5 936.7L1552.4 932.7L1553.3 938.4L1554.2 935.9L1555.0 937.8L1555.9 934.9L1556.8 938.2L1557.7 936.1L1558.6 938.1L1559.5 936.8L1560.4 938.5L1561.3 935.2L1562.2 938.8L1563.1 931.7L1563.9 938.8L1564.8 935.6L1565.7 937.9L1566.6 935.5L1567.5 939.3L1568.4 936.1L1569.3 938.0L1570.2 935.0L1571.1 936.3L1572.0 935.0L1572.8 937.7L1573.7 936.4L1574.6 938.2L1575.5 935.7L1576.4 937.4L1577.3 934.8L1578.2 937.2L1579.1 935.8L1580.0 937.0L1580.9 934.7L1581.8 938.2L1582.6 935.2L1583.5 937.8L1584.4 937.4L1585.3 937.0L1586.2 935.2L1587.1 939.3L1588.0 935.1L1588.9 937.3L1589.8 934.2L1590.7 938.5L1591.5 931.9L1592.4 937.2L1593.3 934.3L1594.2 936.2L1595.1 937.3L1596.0 936.1" fill="none" stroke="#f00" stroke-width="6.2" stroke-linejoin="round"/>
<path d="M177.7 792.0L178.6 792.2L179.5 780.8L180.5 779.5L181.5 766.8L182.5 766.7L183.3 762.4L184.2 763.9L185.0 759.8L185.9 767.1L186.7 762.7L187.6 767.0L188.5 760.9L189.4 765.9L190.2 762.5L191.1 767.7L192.0 765.3L192.9 766.7L193.7 765.0L194.6 765.4L195.5 764.9L196.3 773.2L197.2 768.8L198.1 770.0L199.0 769.8L199.8 774.5L200.7 776.4L201.6 777.7L202.5 771.9L203.4 777.4L204.2 773.0L205.1 777.8L206.0 771.6L206.9 777.4L207.8 770.6L208.6 778.5L209.5 776.4L210.4 782.3L211.3 775.1L212.1 781.4L213.0 773.1L213.9 780.9L214.8 781.6L215.8 798.1L216.7 779.8L217.6 792.5L218.5 790.0L219.5 790.3L220.4 785.8L221.4 797.4L222.3 794.0L223.2 815.3L224.1 801.3L225.1 814.1L226.0 809.2L226.9 819.3L227.8 805.0L228.7 814.6L229.7 809.1L230.6 810.4L231.5 798.8L232.4 814.7L233.3 809.4L234.3 815.0L235.2 814.2L236.1 827.3L237.0 817.1L237.8 822.3L238.7 814.1L239.6 811.3L240.5 811.3L241.3 815.5L242.2 805.9L243.1 823.0L244.0 808.3L244.9 819.0L245.7 815.1L246.6 826.8L247.5 819.1L248.4 821.9L249.3 825.1L250.1 817.7L251.0 820.0L251.8 823.8L252.7 814.4L253.5 815.9L254.4 804.0L255.2 815.1L256.1 808.9L257.0 807.9L257.8 811.0L258.7 812.5L259.6 806.1L260.5 816.2L261.3 806.8L262.2 816.6L263.1 815.6L264.0 819.8L264.9 813.9L265.7 820.1L266.6 814.9L267.5 819.5L268.4 812.1L269.3 815.9L270.3 808.3L271.2 817.3L272.2 810.2L273.1 818.7L274.1 812.0L275.1 828.2L276.0 821.0L276.9 820.2L277.9 814.5L278.8 814.2L279.8 812.2L280.7 816.9L281.6 806.9L282.5 814.4L283.5 804.8L284.4 804.3L285.3 796.7L286.3 803.3L287.3 808.2L288.3 812.0L289.2 808.1L290.2 810.3L291.1 801.5L292.1 805.0L293.0 802.1L293.9 798.3L294.7 795.0L295.6 800.2L296.5 790.0L297.4 792.3L298.2 786.6L299.1 787.7L300.0 780.7L300.8 790.4L301.7 778.6L302.6 781.5L303.5 776.4L304.3 777.7L305.2 773.4L306.1 777.1L307.0 775.1L307.9 779.0L308.7 772.7L309.6 776.4L310.5 769.5L311.4 772.5L312.3 772.2L313.1 770.2L314.0 764.8L314.9 766.9L315.8 757.9L316.6 761.8L317.5 757.8L318.4 761.3L319.3 753.1L320.2 758.1L321.0 749.7L321.9 753.4L322.8 752.7L323.7 752.1L324.7 750.7L325.8 759.1L326.8 752.0L327.7 752.6L328.6 740.4L329.6 734.6L330.5 720.7L331.4 717.0L332.3 718.9L333.2 724.6L334.2 725.1L335.1 730.1L336.0 733.2L336.9 732.4L337.7 729.6L338.6 733.3L339.4 732.6L340.3 732.8L341.1 734.3L342.0 737.7L342.8 731.1L343.7 734.9L344.6 736.1L345.5 740.2L346.5 740.3L347.4 746.0L348.3 747.9L349.2 753.8L350.1 753.5L351.1 762.8L352.0 763.1L352.9 769.1L353.8 765.1L354.6 768.2L355.5 770.5L356.4 771.9L357.3 769.3L358.1 774.8L359.0 773.9L359.9 776.9L360.8 774.1L361.8 785.8L362.7 783.0L363.6 787.7L364.5 787.0L365.4 786.9L366.3 783.2L367.1 790.7L368.0 788.2L368.9 790.3L369.8 787.8L370.7 786.3L371.5 784.2L372.4 786.4L373.3 775.7L374.2 779.1L375.0 779.6L375.9 777.0L376.8 771.3L377.7 772.8L378.6 766.6L379.4 770.9L380.3 765.2L381.2 767.3L382.1 761.9L383.0 762.8L383.8 757.5L384.7 760.4L385.6 758.4L386.5 756.3L387.3 752.7L388.2 752.4L389.1 747.2L390.0 748.1L390.9 744.5L391.7 742.5L392.6 735.1L393.5 738.1L394.4 728.5L395.3 726.2L396.2 721.1L397.2 720.8L398.1 710.3L399.0 706.5L400.0 702.0L401.0 701.3L402.0 697.7L403.0 696.6L403.9 699.0L404.9 702.9L405.8 705.3L406.7 708.0L407.6 711.1L408.5 717.3L409.5 717.5L410.4 725.5L411.3 724.2L412.2 734.1L413.1 734.3L414.1 738.3L415.0 746.6L415.9 752.4L416.8 754.3L417.7 760.1L418.7 758.0L419.6 765.9L420.5 762.5L421.4 773.6L422.3 769.4L423.3 776.6L424.2 775.5L425.1 784.9L426.0 779.0L426.9 783.6L427.8 784.3L428.6 784.5L429.5 785.0L430.4 787.5L431.3 787.6L432.2 794.9L433.0 792.9L433.9 797.5L434.8 794.8L435.7 803.3L436.5 804.0L437.4 810.9L438.3 806.9L439.2 812.8L440.1 804.7L440.9 809.8L441.8 805.2L442.7 803.4L443.6 804.8L444.5 806.3L445.3 805.2L446.2 806.8L447.1 809.0L448.0 807.0L448.8 804.5L449.7 810.4L450.6 806.5L451.5 808.4L452.4 806.9L453.2 810.2L454.1 803.3L455.0 807.9L455.9 805.3L456.8 807.3L457.7 799.5L458.6 799.4L459.6 793.0L460.5 793.8L461.4 787.1L462.3 785.8L463.2 777.6L464.1 781.2L465.1 775.4L466.0 779.2L466.9 773.8L467.8 776.0L468.7 768.8L469.7 770.2L470.6 765.7L471.5 763.5L472.4 757.4L473.3 754.3L474.2 744.9L475.0 746.8L475.9 738.2L476.8 739.3L477.7 727.1L478.7 728.9L479.7 713.7L480.7 705.4L481.7 691.1L482.8 681.0L483.8 664.4L484.6 656.5L485.4 645.9L486.3 637.4L487.1 628.5L487.9 619.4L488.7 599.3L489.5 587.3L490.4 571.1L491.3 560.8L492.2 542.9L493.0 540.7L493.7 522.5L494.5 516.4L495.3 510.4L496.2 507.0L497.0 502.2L497.8 502.0L498.6 499.3L499.5 498.7L500.3 498.8L501.2 502.0L502.1 502.2L503.0 506.3L503.9 511.1L504.7 519.2L505.6 520.6L506.4 530.3L507.2 533.1L508.1 541.0L508.9 545.6L509.7 548.7L510.5 549.1L511.4 552.5L512.2 554.1L513.0 557.1L513.8 564.3L514.5 572.0L515.3 576.7L516.4 586.8L517.5 598.8L518.4 611.5L519.2 618.4L520.2 630.7L521.2 633.3L522.2 646.9L523.2 653.7L524.3 662.1L525.3 667.8L526.2 674.8L527.1 670.0L528.1 675.5L529.0 675.6L529.9 680.3L530.8 679.0L531.7 684.3L532.7 680.4L533.6 692.7L534.5 683.0L535.5 696.7L536.6 699.5L537.6 714.2L538.6 708.4L539.7 720.6L540.7 725.6L541.7 740.5L542.8 747.9L543.8 763.1L544.7 763.5L545.6 766.4L546.6 768.1L547.5 777.0L548.4 775.1L549.3 779.8L550.2 780.0L551.2 784.1L552.1 785.2L553.0 788.8L553.9 789.9L554.8 794.2L555.8 790.2L556.7 798.9L557.6 792.3L558.5 800.4L559.4 798.5L560.4 807.7L561.3 800.6L562.2 809.3L563.1 805.2L564.0 800.1L565.0 795.8L565.9 799.3L566.8 793.2L567.7 796.9L568.6 798.3L569.6 799.8L570.5 800.6L571.4 806.1L572.3 795.2L573.2 799.2L574.2 787.8L575.1 788.5L576.0 782.3L576.9 790.0L577.8 785.3L578.8 800.1L579.7 794.5L580.6 803.0L581.5 796.7L582.4 812.6L583.4 800.9L584.3 813.8L585.2 809.4L586.1 820.2L587.1 812.1L588.0 818.0L589.0 813.8L589.9 819.5L590.9 818.0L591.9 828.0L592.9 825.0L593.8 829.0L594.7 818.5L595.7 822.2L596.6 818.1L597.5 817.8L598.4 812.9L599.3 820.9L600.2 816.2L601.0 821.8L601.9 810.9L602.8 825.1L603.7 817.5L604.6 823.8L605.4 813.7L606.3 826.6L607.2 816.3L608.1 820.7L608.9 816.0L609.8 819.1L610.7 811.0L611.6 817.5L612.5 814.1L613.3 820.4L614.2 815.0L615.1 814.4L616.0 811.1L616.9 820.1L617.7 811.8L618.6 818.3L619.5 806.3L620.4 813.4L621.2 805.7L622.1 805.7L623.0 805.0L623.9 807.2L624.8 795.9L625.6 803.1L626.5 797.1L627.4 798.9L628.3 798.6L629.2 796.6L630.0 793.4L630.9 793.9L631.8 785.2L632.7 788.8L633.5 785.3L634.4 783.0L635.3 779.5L636.2 781.5L637.1 776.9L637.9 774.7L638.8 771.7L639.7 771.2L640.6 765.7L641.5 771.7L642.3 768.9L643.2 770.3L644.1 766.3L645.0 767.0L645.8 765.7L646.7 769.0L647.6 761.0L648.5 761.0L649.5 757.9L650.4 756.2L651.3 745.5L652.2 751.2L653.1 744.6L654.1 743.2L655.0 740.9L655.9 735.9L656.8 732.6L657.7 736.4L658.6 733.6L659.4 733.8L660.3 728.8L661.2 731.1L662.1 728.2L663.0 729.3L663.9 722.5L664.9 722.0L665.8 716.9L666.7 718.3L667.6 716.5L668.5 723.8L669.5 720.5L670.4 726.5L671.3 725.9L672.2 729.0L673.1 729.1L674.0 730.8L674.8 731.3L675.7 733.6L676.6 730.9L677.5 733.3L678.4 727.1L679.2 730.0L680.1 728.5L681.0 729.3L681.9 727.1L682.7 728.2L683.6 722.4L684.6 726.1L685.7 715.9L686.7 714.0L687.6 708.7L688.4 710.8L689.3 704.9L690.2 711.9L691.1 701.0L691.9 706.6L692.8 699.4L693.7 699.8L694.6 696.0L695.5 701.6L696.3 694.8L697.2 699.4L698.1 693.5L699.0 694.3L699.9 687.0L700.8 689.6L701.8 678.1L702.7 677.5L703.6 676.4L704.5 671.8L705.4 665.5L706.4 659.8L707.3 657.5L708.2 656.2L709.1 641.6L709.9 641.0L710.8 630.3L711.6 623.6L712.5 611.6L713.4 605.3L714.3 590.6L715.1 590.5L716.0 578.0L716.8 570.2L717.7 558.8L718.5 559.7L719.5 548.3L720.5 544.0L721.5 531.4L722.5 526.0L723.5 517.7L724.5 509.7L725.5 506.9L726.6 504.3L727.6 499.2L728.6 504.2L729.5 506.8L730.5 510.4L731.5 514.5L732.5 519.9L733.5 524.1L734.5 534.5L735.6 541.6L736.7 556.4L737.7 563.6L738.6 575.8L739.6 579.0L740.5 594.9L741.5 601.2L742.5 608.1L743.5 612.9L744.4 620.8L745.4 620.9L746.1 631.8L746.9 631.7L747.8 639.3L748.7 645.0L749.7 650.9L750.6 650.4L751.5 656.6L752.4 657.3L753.3 668.1L754.3 665.4L755.2 671.8L756.1 667.7L757.0 675.7L757.9 672.9L758.9 678.5L759.8 677.6L760.7 683.9L761.6 681.8L762.5 686.8L763.5 683.0L764.4 686.0L765.3 687.9L766.2 688.0L767.2 682.8L768.1 683.7L769.1 680.2L770.0 678.8L770.9 675.0L771.7 680.7L772.6 678.8L773.5 680.5L774.4 680.2L775.2 680.4L776.1 679.4L777.0 683.0L777.9 676.7L778.9 677.7L779.8 667.1L780.7 675.9L781.6 667.7L782.5 664.4L783.5 654.1L784.4 653.6L785.3 647.8L786.2 643.7L787.1 636.0L788.1 636.8L789.0 627.4L789.9 624.9L790.9 608.7L792.0 600.2L793.0 589.0L794.0 587.6L795.1 572.9L796.1 575.5L797.1 554.5L798.2 541.3L799.2 526.3L800.2 518.8L801.2 509.5L802.2 507.3L803.2 488.3L804.3 485.2L805.3 464.1L806.4 451.2L807.5 427.7L808.5 404.3L809.5 371.9L810.5 346.8L811.5 309.3L812.5 284.8L813.5 252.9L814.5 223.5L815.5 191.1L816.5 171.6L817.5 149.6L818.5 130.3L819.4 143.7L820.2 162.0L821.1 175.3L822.0 192.3L823.0 216.1L823.9 244.2L824.9 261.3L825.8 298.4L826.8 311.6L827.8 344.2L828.8 369.6L829.8 403.3L830.8 427.1L831.9 466.5L833.0 496.2L834.0 519.2L835.0 538.6L836.0 556.6L837.1 580.2L838.2 612.3L839.2 617.1L840.2 628.9L841.2 628.9L842.2 637.1L843.1 637.1L844.0 646.8L845.0 649.0L845.9 656.6L846.8 661.9L847.7 666.9L848.6 664.5L849.5 668.5L850.3 660.1L851.2 669.4L852.1 669.3L853.0 672.9L854.0 682.2L855.0 690.4L856.0 694.9L856.9 702.7L857.8 699.0L858.7 702.7L859.5 702.0L860.4 704.5L861.3 702.7L862.2 707.5L863.1 706.8L864.0 715.0L865.0 711.2L865.9 717.7L866.8 717.2L867.7 722.9L868.6 720.4L869.6 725.2L870.5 722.1L871.4 728.2L872.3 729.8L873.2 734.9L874.2 738.4L875.1 748.6L876.0 744.7L876.9 745.5L877.8 746.6L878.7 748.4L879.5 750.2L880.4 753.9L881.3 747.6L882.2 754.6L883.1 754.2L884.0 758.7L885.0 757.0L885.9 762.4L886.8 761.8L887.7 765.5L888.6 763.1L889.6 764.8L890.5 759.7L891.4 765.7L892.3 763.1L893.2 769.0L894.2 763.8L895.1 772.4L896.0 766.3L896.9 771.8L897.7 765.2L898.6 767.8L899.5 762.0L900.4 765.4L901.2 759.4L902.1 764.5L903.0 763.1L903.9 764.9L904.8 759.0L905.6 764.4L906.5 754.9L907.4 759.2L908.3 754.9L909.2 758.2L910.1 746.0L911.1 745.4L912.0 740.5L912.9 741.6L913.8 732.9L914.7 731.8L915.7 722.4L916.6 725.8L917.5 713.8L918.4 719.0L919.2 712.5L920.1 710.1L921.0 707.4L921.9 706.2L922.7 702.6L923.6 701.1L924.5 705.1L925.5 709.2L926.4 712.3L927.4 717.1L928.3 720.3L929.2 725.0L930.1 730.2L931.1 743.3L932.0 747.1L932.9 757.7L933.8 753.7L934.7 762.3L935.7 759.5L936.6 765.9L937.5 764.6L938.4 770.6L939.3 762.9L940.3 766.5L941.2 767.2L942.1 771.7L943.0 765.8L943.9 766.1L944.9 754.7L945.8 760.2L946.7 754.5L947.6 759.5L948.5 758.2L949.5 763.5L950.4 763.2L951.3 768.3L952.2 766.4L953.1 771.4L954.1 770.2L955.0 776.2L955.9 775.8L956.8 777.0L957.7 770.3L958.7 775.1L959.6 772.2L960.5 771.8L961.4 771.4L962.3 772.7L963.2 772.1L964.0 772.7L964.9 767.9L965.8 772.0L966.7 769.1L967.6 772.2L968.4 767.8L969.3 767.2L970.2 764.8L971.1 764.0L971.9 761.3L972.8 761.8L973.7 757.0L974.6 767.1L975.6 768.3L976.5 770.0L977.4 768.5L978.3 776.6L979.3 770.1L980.2 779.0L981.2 775.9L982.1 781.6L983.0 778.2L983.9 781.6L984.9 780.6L985.8 782.7L986.7 781.5L987.6 781.6L988.4 778.1L989.3 781.5L990.2 778.4L991.1 779.8L991.9 771.0L992.8 778.9L993.7 774.2L994.6 776.8L995.5 769.1L996.3 774.3L997.2 768.3L998.1 772.3L999.0 767.4L999.9 765.0L1000.8 758.1L1001.8 756.8L1002.7 744.5L1003.6 746.3L1004.5 741.7L1005.3 743.8L1006.2 736.1L1007.1 738.1L1008.0 735.8L1008.8 739.1L1009.7 732.5L1010.6 734.2L1011.4 728.8L1012.3 732.2L1013.1 727.3L1014.0 730.9L1014.8 726.8L1015.7 729.0L1016.5 728.1L1017.4 728.1L1018.3 726.3L1019.2 728.3L1020.1 722.6L1021.0 725.9L1021.9 724.1L1022.8 727.7L1023.7 722.1L1024.6 725.0L1025.5 724.5L1026.4 724.8L1027.3 723.1L1028.2 724.4L1029.1 722.8L1030.0 726.5L1030.9 716.1L1031.8 721.3L1032.7 718.4L1033.6 721.2L1034.5 716.5L1035.4 717.6L1036.2 713.4L1037.1 711.1L1038.0 702.7L1038.8 706.6L1039.7 698.8L1040.5 697.4L1041.4 691.8L1042.3 690.3L1043.4 668.9L1044.3 670.4L1045.2 664.1L1046.0 664.7L1046.9 657.3L1047.8 653.5L1048.7 649.5L1049.5 644.5L1050.4 635.6L1051.2 626.9L1052.0 608.0L1053.0 600.7L1054.0 583.6L1055.0 575.4L1055.8 565.1L1056.5 561.2L1057.3 548.1L1058.2 507.8L1059.0 466.1L1060.0 449.8L1061.0 435.1L1062.0 420.3L1063.0 398.7L1064.0 391.3L1064.9 372.4L1065.9 358.7L1066.9 340.7L1067.9 329.1L1069.0 302.4L1070.0 284.7L1071.0 275.1L1072.0 267.7L1073.0 256.7L1074.0 251.8L1074.9 249.9L1075.8 249.5L1076.8 247.4L1077.7 246.7L1078.6 245.3L1079.5 245.4L1080.4 245.3L1081.3 248.3L1082.2 247.5L1083.1 253.3L1084.0 249.9L1084.8 268.4L1085.5 279.9L1086.5 299.4L1087.4 310.7L1088.3 332.8L1089.3 342.2L1090.2 364.2L1091.0 382.3L1091.9 404.4L1092.8 423.4L1093.6 445.9L1094.5 465.0L1095.5 489.8L1096.6 506.2L1097.6 531.2L1098.4 538.4L1099.3 552.9L1100.2 560.8L1101.0 580.5L1101.9 578.3L1102.8 587.8L1103.6 590.8L1104.5 604.4L1105.4 604.5L1106.4 611.2L1107.3 611.5L1108.3 617.4L1109.2 615.7L1110.0 622.3L1110.7 623.7L1111.5 631.5L1112.4 621.4L1113.2 622.3L1114.1 609.9L1115.0 615.0L1116.0 611.5L1116.9 616.1L1117.8 612.8L1118.8 618.4L1119.8 618.7L1120.7 620.2L1121.6 613.5L1122.5 615.2L1123.5 612.1L1124.4 617.5L1125.3 609.6L1126.2 611.6L1127.2 614.1L1128.1 619.1L1129.1 613.4L1130.0 622.3L1130.9 609.5L1131.8 609.9L1132.7 609.8L1133.6 608.6L1134.5 603.6L1135.4 612.4L1136.3 606.5L1137.2 612.9L1138.1 605.9L1139.0 611.6L1139.9 609.2L1140.8 612.3L1141.6 603.4L1142.5 611.2L1143.4 607.6L1144.2 610.0L1145.1 606.5L1146.0 610.2L1146.8 609.7L1147.6 619.7L1148.4 623.4L1149.3 628.0L1150.2 622.3L1151.2 634.5L1152.1 631.3L1153.0 636.9L1153.9 635.2L1154.8 644.3L1155.8 637.2L1156.7 645.7L1157.6 648.7L1158.5 647.4L1159.5 644.4L1160.4 643.5L1161.4 642.1L1162.3 643.0L1163.3 633.8L1164.2 644.9L1165.2 640.9L1166.2 646.2L1167.1 643.2L1168.0 649.5L1169.0 647.2L1169.8 642.7L1170.6 634.8L1171.4 634.5L1172.3 626.7L1173.2 628.4L1174.0 622.7L1174.9 630.0L1175.7 610.1L1176.5 605.7L1177.5 591.0L1178.5 585.7L1179.5 566.1L1180.6 562.4L1181.6 549.4L1182.7 539.1L1183.7 526.4L1184.6 524.1L1185.4 516.2L1186.3 510.4L1187.2 504.6L1188.1 501.6L1188.9 492.0L1189.8 493.0L1190.6 482.0L1191.4 480.4L1192.2 472.0L1193.0 467.2L1194.0 462.8L1195.0 461.5L1195.9 457.7L1196.9 456.5L1197.9 457.6L1199.0 460.8L1200.0 463.1L1200.9 471.9L1201.8 479.8L1202.7 489.3L1203.6 494.1L1204.6 516.7L1205.6 527.4L1206.6 545.7L1207.6 558.5L1208.5 578.5L1209.5 598.4L1210.2 618.6L1211.0 628.8L1212.0 649.4L1213.0 657.3L1214.0 675.6L1215.0 681.6L1216.0 694.4L1217.0 695.9L1218.0 705.4L1219.0 706.5L1220.0 721.1L1221.0 711.5L1222.0 721.6L1223.0 715.8L1224.0 727.2L1225.0 717.7L1225.9 722.3L1226.8 721.7L1227.6 725.5L1228.5 719.5L1229.5 716.1L1230.4 699.1L1231.4 692.6L1232.2 685.3L1233.1 685.3L1234.0 676.1L1234.8 672.5L1235.7 670.6L1236.6 671.2L1237.6 669.4L1238.5 668.6L1239.4 667.4L1240.3 670.8L1241.2 673.1L1242.0 676.8L1242.9 679.6L1243.8 685.7L1244.7 691.4L1245.5 701.1L1246.4 702.4L1247.2 711.5L1248.1 711.5L1249.0 719.8L1249.8 724.1L1250.8 729.9L1251.7 728.8L1252.7 732.4L1253.7 728.4L1254.6 731.0L1255.6 727.0L1256.5 736.9L1257.4 731.9L1258.4 741.6L1259.3 740.4L1260.2 750.9L1261.1 745.6L1262.0 751.3L1263.0 751.3L1263.9 755.6L1264.8 754.1L1265.7 762.5L1266.5 762.4L1267.4 769.8L1268.3 769.8L1269.1 777.1L1269.8 770.6L1270.6 781.6L1271.5 773.9L1272.4 776.5L1273.4 772.4L1274.3 773.2L1275.2 767.4L1276.1 770.5L1277.0 769.9L1278.0 772.1L1278.9 766.6L1279.8 765.2L1280.7 767.8L1281.6 770.5L1282.6 770.0L1283.5 772.3L1284.4 772.9L1285.3 774.6L1286.2 772.1L1287.2 770.3L1288.1 767.8L1289.0 771.7L1289.9 766.0L1290.8 768.3L1291.6 759.9L1292.5 758.4L1293.3 755.0L1294.2 756.2L1295.1 752.6L1295.9 752.3L1296.8 747.3L1297.7 748.5L1298.7 746.6L1299.6 746.4L1300.5 739.9L1301.5 736.8L1302.5 723.8L1303.5 717.7L1304.4 704.5L1305.2 704.2L1306.1 696.1L1307.0 691.1L1308.0 674.3L1309.0 670.7L1310.0 660.3L1310.8 650.5L1311.7 641.1L1312.5 629.7L1313.5 617.9L1314.6 607.7L1315.6 581.8L1316.5 563.1L1317.5 536.1L1318.6 468.2L1319.5 441.4L1320.4 421.8L1321.3 397.5L1322.2 375.4L1323.2 355.6L1324.1 336.9L1325.0 314.4L1326.0 300.6L1327.0 287.9L1328.0 277.0L1329.0 264.6L1329.9 263.4L1330.8 258.7L1331.7 257.0L1332.6 259.5L1333.6 262.8L1334.5 263.6L1335.3 277.0L1336.2 288.0L1337.0 300.6L1337.9 322.7L1338.7 350.6L1339.6 374.3L1340.4 397.7L1341.2 418.5L1342.1 446.6L1342.9 465.6L1344.2 537.8L1345.1 569.0L1346.0 605.4L1346.9 614.6L1347.7 635.7L1348.6 647.2L1349.4 662.7L1350.3 676.3L1351.2 690.3L1352.2 702.7L1353.1 718.7L1354.0 724.1L1355.0 736.5L1356.0 740.1L1356.9 751.9L1357.9 752.9L1358.9 763.9L1359.9 764.7L1360.9 776.0L1361.8 775.8L1362.8 781.4L1363.8 781.5L1364.7 790.5L1365.7 788.1L1366.6 793.0L1367.5 789.7L1368.4 793.4L1369.3 792.6L1370.3 798.1L1371.2 795.0L1372.1 802.6L1373.0 798.7L1374.0 803.7L1374.9 801.2L1375.8 804.4L1376.8 802.3L1377.7 807.7L1378.6 804.7L1379.5 812.6L1380.4 806.2L1381.3 812.2L1382.2 807.9L1383.1 814.5L1383.9 806.9L1384.8 814.2L1385.7 808.8L1386.6 812.5L1387.5 809.8L1388.4 813.2L1389.3 812.2L1390.2 818.5L1391.0 811.7L1391.9 814.0L1392.8 809.0L1393.7 818.1L1394.6 814.5L1395.4 816.7L1396.3 816.4L1397.2 818.4L1398.1 810.6L1398.9 821.9L1399.8 816.5L1400.7 817.6L1401.6 814.7L1402.5 820.4L1403.3 817.4L1404.2 822.5L1405.1 816.6L1406.0 819.0L1406.8 813.7L1407.7 822.2L1408.6 815.2L1409.5 818.6L1410.4 817.1L1411.2 826.8L1412.1 816.1L1413.0 819.2L1413.9 816.1L1414.8 824.1L1415.7 818.5L1416.6 825.7L1417.6 821.4L1418.5 819.3L1419.4 817.9L1420.3 825.0L1421.2 815.6L1422.1 821.5L1423.0 818.8L1423.9 822.0L1424.8 815.6L1425.8 821.8L1426.7 820.2L1427.6 824.8L1428.5 821.7L1429.4 825.6L1430.3 821.2L1431.2 826.1L1432.1 820.9L1433.0 823.1L1434.0 815.2L1434.9 824.7L1435.8 818.9L1436.7 825.9L1437.6 819.3L1438.5 821.4L1439.4 823.2L1440.3 831.5L1441.2 821.0L1442.2 827.0L1443.1 812.6L1444.0 827.2L1444.9 820.4L1445.8 827.8L1446.7 823.5L1447.6 824.6L1448.5 819.9L1449.4 821.8L1450.4 819.5L1451.3 821.1L1452.2 819.2L1453.1 828.0L1454.0 817.8L1454.9 828.0L1455.8 813.2L1456.7 825.7L1457.6 815.9L1458.6 823.3L1459.5 820.5L1460.4 823.1L1461.3 818.1L1462.2 822.3L1463.1 812.5L1464.0 822.0L1464.9 818.7L1465.8 823.1L1466.8 820.6L1467.7 825.6L1468.6 817.5L1469.5 817.9L1470.4 814.7L1471.3 824.9L1472.2 818.6L1473.1 822.5L1474.0 815.8L1475.0 826.7L1475.9 816.4L1476.8 820.8L1477.7 816.5L1478.6 820.8L1479.5 814.0L1480.4 823.1L1481.3 819.6L1482.2 828.2L1483.2 817.0L1484.1 822.8L1485.0 819.9L1485.9 818.8L1486.8 817.6L1487.7 820.1L1488.6 816.7L1489.5 822.2L1490.4 820.1L1491.4 827.0L1492.3 815.0L1493.2 824.7L1494.1 811.5L1495.0 823.7L1495.9 816.6L1496.8 819.4L1497.7 817.6L1498.6 821.8L1499.6 818.6L1500.5 820.4L1501.4 816.5L1502.3 826.3L1503.2 819.1L1504.1 820.1L1505.0 816.2L1505.9 823.8L1506.8 818.9L1507.8 821.1L1508.7 815.5L1509.6 820.2L1510.5 812.9L1511.4 820.8L1512.3 817.3L1513.2 825.9L1514.1 817.8L1515.0 822.2L1516.0 819.8L1516.9 825.1L1517.8 820.1L1518.7 821.3L1519.6 821.8L1520.5 826.6L1521.4 818.7L1522.3 830.2L1523.2 822.9L1524.2 820.3L1525.1 813.4L1526.0 826.9L1526.9 819.9L1527.8 821.9L1528.7 820.1L1529.6 827.3L1530.5 821.6L1531.4 823.2L1532.4 819.4L1533.3 827.4L1534.2 819.5L1535.1 823.8L1536.0 823.5L1536.9 824.3L1537.8 820.3L1538.7 828.8L1539.6 816.8L1540.6 827.8L1541.5 818.9L1542.4 823.5L1543.3 820.8L1544.2 822.3L1545.1 816.4L1546.0 824.1L1546.9 818.9L1547.8 819.5L1548.8 821.0L1549.7 825.8L1550.6 820.6L1551.5 829.0L1552.4 817.2L1553.3 824.9L1554.2 817.6L1555.1 820.5L1556.0 818.9L1557.0 826.9L1557.9 820.2L1558.8 819.8L1559.7 814.8L1560.6 824.3L1561.5 821.2L1562.4 826.6L1563.3 817.9L1564.2 823.2L1565.1 820.3L1566.0 824.3L1566.9 819.8L1567.8 818.6L1568.7 816.6L1569.7 820.3L1570.6 819.2L1571.5 820.3L1572.4 815.6L1573.3 826.0L1574.2 812.0L1575.1 820.0L1576.0 820.1L1576.9 822.6L1577.8 817.8L1578.7 820.1L1579.6 818.7L1580.5 821.8L1581.4 820.1L1582.3 821.9L1583.2 820.5L1584.1 818.9L1585.0 818.7L1585.9 819.5L1586.9 815.8L1587.8 825.4L1588.7 815.6L1589.6 821.7L1590.5 816.3L1591.4 820.8L1592.3 813.7L1593.2 819.5L1594.1 820.4L1595.0 819.0" fill="none" stroke="#00f" stroke-width="6.2" stroke-linejoin="round"/>
<rect x="1660.5" y="34.5" width="413" height="244" fill="#fff" stroke="#3333cc" stroke-width="15"/>
<circle cx="1781.5" cy="153" r="82" fill="#a8a8a8" stroke="#008a08" stroke-width="5.5"/>
<circle cx="1781.5" cy="190" r="64" fill="#fff" stroke="#008a08" stroke-width="28"/>
<circle cx="1743.2" cy="62.1" r="13.4" fill="#a8a8a8"/>
<circle cx="1794.0" cy="55.3" r="13.4" fill="#a8a8a8"/>
<circle cx="1834.1" cy="71.2" r="13.4" fill="#a8a8a8"/>
<circle cx="1702.2" cy="96.3" r="13.4" fill="#a8a8a8"/>
<circle cx="1865.3" cy="101.3" r="13.4" fill="#a8a8a8"/>
<circle cx="1681.9" cy="147.6" r="13.4" fill="#a8a8a8"/>
<circle cx="1900.6" cy="71.7" r="13.4" fill="#a8a8a8"/>
<circle cx="1951.9" cy="55.3" r="13.4" fill="#a8a8a8"/>
<circle cx="1992.3" cy="66.2" r="13.4" fill="#a8a8a8"/>
<circle cx="2033.3" cy="101.3" r="13.4" fill="#a8a8a8"/>
<circle cx="2050.5" cy="150.4" r="13.4" fill="#a8a8a8"/>
<circle cx="1952.5" cy="153" r="82" fill="#a8a8a8" stroke="#008a08" stroke-width="5.5"/>
<circle cx="1952.5" cy="190" r="64" fill="#fff" stroke="#008a08" stroke-width="28"/>
<rect x="1666" y="406" width="412.5" height="246" fill="#fff" stroke="#f00" stroke-width="15" stroke-linejoin="round"/>
<circle cx="1787.0" cy="509.0" r="88.4" fill="#a8a8a8"/>
<circle cx="1970.0" cy="510.0" r="88.4" fill="#a8a8a8"/>
<circle cx="1787.0" cy="555.5" r="74" fill="#fff" stroke="#008a08" stroke-width="32"/>
<circle cx="1970.0" cy="557.0" r="74" fill="#fff" stroke="#008a08" stroke-width="32"/>
<rect x="1666" y="758.4" width="412.5" height="246.7" fill="#fff" stroke="#000" stroke-width="15" stroke-linejoin="round"/>
<circle cx="1788" cy="890" r="66" fill="#fff" stroke="#008a08" stroke-width="29"/>
<circle cx="1695.6" cy="866.5" r="13.7" fill="#a8a8a8"/>
<circle cx="1716.8" cy="824.4" r="13.7" fill="#a8a8a8"/>
<circle cx="1764.8" cy="798.4" r="13.7" fill="#a8a8a8"/>
<circle cx="1823.9" cy="803.2" r="13.7" fill="#a8a8a8"/>
<circle cx="1866.4" cy="845.3" r="13.7" fill="#a8a8a8"/>
<circle cx="1880.0" cy="870.8" r="13.7" fill="#a8a8a8"/>
<circle cx="1898.9" cy="814.8" r="13.7" fill="#a8a8a8"/>
<circle cx="1941.0" cy="798.4" r="13.7" fill="#a8a8a8"/>
<circle cx="1989.0" cy="803.2" r="13.7" fill="#a8a8a8"/>
<circle cx="2025.6" cy="829.8" r="13.7" fill="#a8a8a8"/>
<circle cx="2047.0" cy="871.9" r="13.7" fill="#a8a8a8"/>
<circle cx="1953" cy="890" r="66" fill="#fff" stroke="#008a08" stroke-width="29"/>
<path d="M1653.8 279.0L1351.5 560.0" stroke="#00f" stroke-width="6.5" fill="none"/>
<path d="M1359.5 537.5L1351.5 560.0L1374.5 553.0" stroke="#00f" stroke-width="6.5" fill="none" stroke-linecap="round" stroke-linejoin="miter" stroke-miterlimit="10"/>
<path d="M1654.6 656.1L1374.0 917.3" stroke="#f00" stroke-width="6.5" fill="none"/>
<path d="M1380.5 897.0L1374.0 917.3L1396.5 911.5" stroke="#f00" stroke-width="6.5" fill="none" stroke-linecap="round" stroke-linejoin="miter" stroke-miterlimit="10"/>
<path d="M1654.5 884.2L1544.8 992.6" stroke="#000" stroke-width="6.5" fill="none"/>
<path d="M1551.0 972.8L1544.8 992.6L1566.5 986.5" stroke="#000" stroke-width="6.5" fill="none" stroke-linecap="round" stroke-linejoin="miter" stroke-miterlimit="10"/>
</svg>
</body></html>
